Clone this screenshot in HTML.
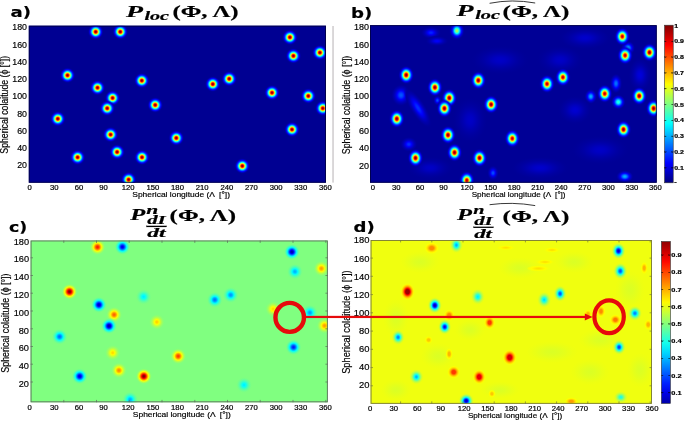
<!DOCTYPE html>
<html><head><meta charset="utf-8"><title>Figure</title>
<style>
html,body{margin:0;padding:0;background:#fff;overflow:hidden}
svg{display:block}
text{white-space:pre}
</style></head>
<body>
<svg width="685" height="421" viewBox="0 0 685 421">
<defs>
<radialGradient id="g0"><stop offset="0.000" stop-color="#800000"/><stop offset="0.056" stop-color="#8f0000"/><stop offset="0.111" stop-color="#bd0000"/><stop offset="0.167" stop-color="#ff0600"/><stop offset="0.222" stop-color="#ff6000"/><stop offset="0.278" stop-color="#ffc600"/><stop offset="0.333" stop-color="#ceff31"/><stop offset="0.389" stop-color="#68ff97"/><stop offset="0.444" stop-color="#0afff5"/><stop offset="0.500" stop-color="#00b6ff"/><stop offset="0.556" stop-color="#0071ff"/><stop offset="0.611" stop-color="#0038ff"/><stop offset="0.667" stop-color="#000bff"/><stop offset="0.722" stop-color="#0000e7"/><stop offset="0.778" stop-color="#0000cc" stop-opacity="0.83"/><stop offset="0.833" stop-color="#0000b8" stop-opacity="0.54"/><stop offset="0.889" stop-color="#0000a8" stop-opacity="0.31"/><stop offset="0.944" stop-color="#00009c" stop-opacity="0.14"/><stop offset="1.000" stop-color="#000092" stop-opacity="0.00"/></radialGradient>
<clipPath id="cp0"><rect x="28.8" y="25.7" width="297.2" height="157.0"/></clipPath>
<radialGradient id="g1"><stop offset="0.000" stop-color="#0024ff"/><stop offset="0.056" stop-color="#0022ff"/><stop offset="0.111" stop-color="#001dff"/><stop offset="0.167" stop-color="#0015ff"/><stop offset="0.222" stop-color="#000aff"/><stop offset="0.278" stop-color="#0000fd"/><stop offset="0.333" stop-color="#0000ef"/><stop offset="0.389" stop-color="#0000e2"/><stop offset="0.444" stop-color="#0000d5"/><stop offset="0.500" stop-color="#0000c9"/><stop offset="0.556" stop-color="#0000be"/><stop offset="0.611" stop-color="#0000b5"/><stop offset="0.667" stop-color="#0000ad"/><stop offset="0.722" stop-color="#0000a7"/><stop offset="0.778" stop-color="#0000a2"/><stop offset="0.833" stop-color="#00009e" stop-opacity="0.80"/><stop offset="0.889" stop-color="#00009b" stop-opacity="0.47"/><stop offset="0.944" stop-color="#000098" stop-opacity="0.21"/><stop offset="1.000" stop-color="#000096" stop-opacity="0.00"/></radialGradient>
<radialGradient id="g2"><stop offset="0.000" stop-color="#0057ff"/><stop offset="0.056" stop-color="#0054ff"/><stop offset="0.111" stop-color="#004dff"/><stop offset="0.167" stop-color="#0042ff"/><stop offset="0.222" stop-color="#0034ff"/><stop offset="0.278" stop-color="#0023ff"/><stop offset="0.333" stop-color="#0011ff"/><stop offset="0.389" stop-color="#0000fe"/><stop offset="0.444" stop-color="#0000ec"/><stop offset="0.500" stop-color="#0000dc"/><stop offset="0.556" stop-color="#0000cd"/><stop offset="0.611" stop-color="#0000c1"/><stop offset="0.667" stop-color="#0000b6"/><stop offset="0.722" stop-color="#0000ad"/><stop offset="0.778" stop-color="#0000a6"/><stop offset="0.833" stop-color="#0000a1" stop-opacity="0.80"/><stop offset="0.889" stop-color="#00009c" stop-opacity="0.47"/><stop offset="0.944" stop-color="#000099" stop-opacity="0.21"/><stop offset="1.000" stop-color="#000096" stop-opacity="0.00"/></radialGradient>
<radialGradient id="g3"><stop offset="0.000" stop-color="#2effd1"/><stop offset="0.056" stop-color="#29ffd6"/><stop offset="0.111" stop-color="#1affe5"/><stop offset="0.167" stop-color="#02fffd"/><stop offset="0.222" stop-color="#00e2ff"/><stop offset="0.278" stop-color="#00bfff"/><stop offset="0.333" stop-color="#0099ff"/><stop offset="0.389" stop-color="#0072ff"/><stop offset="0.444" stop-color="#004dff"/><stop offset="0.500" stop-color="#002bff"/><stop offset="0.556" stop-color="#000cff"/><stop offset="0.611" stop-color="#0000f0"/><stop offset="0.667" stop-color="#0000da"/><stop offset="0.722" stop-color="#0000c7"/><stop offset="0.778" stop-color="#0000b9"/><stop offset="0.833" stop-color="#0000ad" stop-opacity="0.80"/><stop offset="0.889" stop-color="#0000a3" stop-opacity="0.47"/><stop offset="0.944" stop-color="#00009c" stop-opacity="0.21"/><stop offset="1.000" stop-color="#000096" stop-opacity="0.00"/></radialGradient>
<radialGradient id="g4"><stop offset="0.000" stop-color="#00b2ff"/><stop offset="0.056" stop-color="#00afff"/><stop offset="0.111" stop-color="#00a4ff"/><stop offset="0.167" stop-color="#0094ff"/><stop offset="0.222" stop-color="#007eff"/><stop offset="0.278" stop-color="#0066ff"/><stop offset="0.333" stop-color="#004bff"/><stop offset="0.389" stop-color="#0030ff"/><stop offset="0.444" stop-color="#0016ff"/><stop offset="0.500" stop-color="#0000fd"/><stop offset="0.556" stop-color="#0000e8"/><stop offset="0.611" stop-color="#0000d5"/><stop offset="0.667" stop-color="#0000c5"/><stop offset="0.722" stop-color="#0000b8"/><stop offset="0.778" stop-color="#0000ae"/><stop offset="0.833" stop-color="#0000a6" stop-opacity="0.80"/><stop offset="0.889" stop-color="#00009f" stop-opacity="0.47"/><stop offset="0.944" stop-color="#00009a" stop-opacity="0.21"/><stop offset="1.000" stop-color="#000096" stop-opacity="0.00"/></radialGradient>
<radialGradient id="g5"><stop offset="0.000" stop-color="#0075ff"/><stop offset="0.056" stop-color="#0072ff"/><stop offset="0.111" stop-color="#006aff"/><stop offset="0.167" stop-color="#005dff"/><stop offset="0.222" stop-color="#004dff"/><stop offset="0.278" stop-color="#0039ff"/><stop offset="0.333" stop-color="#0024ff"/><stop offset="0.389" stop-color="#000fff"/><stop offset="0.444" stop-color="#0000fa"/><stop offset="0.500" stop-color="#0000e7"/><stop offset="0.556" stop-color="#0000d6"/><stop offset="0.611" stop-color="#0000c7"/><stop offset="0.667" stop-color="#0000bb"/><stop offset="0.722" stop-color="#0000b1"/><stop offset="0.778" stop-color="#0000a9"/><stop offset="0.833" stop-color="#0000a2" stop-opacity="0.80"/><stop offset="0.889" stop-color="#00009d" stop-opacity="0.47"/><stop offset="0.944" stop-color="#000099" stop-opacity="0.21"/><stop offset="1.000" stop-color="#000096" stop-opacity="0.00"/></radialGradient>
<radialGradient id="g6"><stop offset="0.000" stop-color="#002eff"/><stop offset="0.056" stop-color="#002cff"/><stop offset="0.111" stop-color="#0026ff"/><stop offset="0.167" stop-color="#001eff"/><stop offset="0.222" stop-color="#0012ff"/><stop offset="0.278" stop-color="#0005ff"/><stop offset="0.333" stop-color="#0000f6"/><stop offset="0.389" stop-color="#0000e7"/><stop offset="0.444" stop-color="#0000da"/><stop offset="0.500" stop-color="#0000cd"/><stop offset="0.556" stop-color="#0000c1"/><stop offset="0.611" stop-color="#0000b8"/><stop offset="0.667" stop-color="#0000af"/><stop offset="0.722" stop-color="#0000a8"/><stop offset="0.778" stop-color="#0000a3"/><stop offset="0.833" stop-color="#00009e" stop-opacity="0.80"/><stop offset="0.889" stop-color="#00009b" stop-opacity="0.47"/><stop offset="0.944" stop-color="#000098" stop-opacity="0.21"/><stop offset="1.000" stop-color="#000096" stop-opacity="0.00"/></radialGradient>
<radialGradient id="g7"><stop offset="0.000" stop-color="#004dff"/><stop offset="0.056" stop-color="#004aff"/><stop offset="0.111" stop-color="#0044ff"/><stop offset="0.167" stop-color="#0039ff"/><stop offset="0.222" stop-color="#002bff"/><stop offset="0.278" stop-color="#001bff"/><stop offset="0.333" stop-color="#000aff"/><stop offset="0.389" stop-color="#0000f8"/><stop offset="0.444" stop-color="#0000e7"/><stop offset="0.500" stop-color="#0000d8"/><stop offset="0.556" stop-color="#0000ca"/><stop offset="0.611" stop-color="#0000be"/><stop offset="0.667" stop-color="#0000b4"/><stop offset="0.722" stop-color="#0000ac"/><stop offset="0.778" stop-color="#0000a5"/><stop offset="0.833" stop-color="#0000a0" stop-opacity="0.80"/><stop offset="0.889" stop-color="#00009c" stop-opacity="0.47"/><stop offset="0.944" stop-color="#000099" stop-opacity="0.21"/><stop offset="1.000" stop-color="#000096" stop-opacity="0.00"/></radialGradient>
<radialGradient id="g8"><stop offset="0.000" stop-color="#0000fa"/><stop offset="0.056" stop-color="#0000f9"/><stop offset="0.111" stop-color="#0000f5"/><stop offset="0.167" stop-color="#0000ef"/><stop offset="0.222" stop-color="#0000e8"/><stop offset="0.278" stop-color="#0000df"/><stop offset="0.333" stop-color="#0000d5"/><stop offset="0.389" stop-color="#0000cc"/><stop offset="0.444" stop-color="#0000c3"/><stop offset="0.500" stop-color="#0000ba"/><stop offset="0.556" stop-color="#0000b3"/><stop offset="0.611" stop-color="#0000ac"/><stop offset="0.667" stop-color="#0000a7"/><stop offset="0.722" stop-color="#0000a2"/><stop offset="0.778" stop-color="#00009e"/><stop offset="0.833" stop-color="#00009c" stop-opacity="0.80"/><stop offset="0.889" stop-color="#000099" stop-opacity="0.47"/><stop offset="0.944" stop-color="#000097" stop-opacity="0.21"/><stop offset="1.000" stop-color="#000096" stop-opacity="0.00"/></radialGradient>
<radialGradient id="g9"><stop offset="0.000" stop-color="#0000cc"/><stop offset="0.056" stop-color="#0000cb"/><stop offset="0.111" stop-color="#0000c9"/><stop offset="0.167" stop-color="#0000c6"/><stop offset="0.222" stop-color="#0000c2"/><stop offset="0.278" stop-color="#0000bd"/><stop offset="0.333" stop-color="#0000b8"/><stop offset="0.389" stop-color="#0000b3"/><stop offset="0.444" stop-color="#0000ae"/><stop offset="0.500" stop-color="#0000aa"/><stop offset="0.556" stop-color="#0000a6"/><stop offset="0.611" stop-color="#0000a2"/><stop offset="0.667" stop-color="#00009f"/><stop offset="0.722" stop-color="#00009d"/><stop offset="0.778" stop-color="#00009b"/><stop offset="0.833" stop-color="#000099" stop-opacity="0.80"/><stop offset="0.889" stop-color="#000098" stop-opacity="0.47"/><stop offset="0.944" stop-color="#000097" stop-opacity="0.21"/><stop offset="1.000" stop-color="#000096" stop-opacity="0.00"/></radialGradient>
<radialGradient id="g10"><stop offset="0.000" stop-color="#0000c7"/><stop offset="0.056" stop-color="#0000c6"/><stop offset="0.111" stop-color="#0000c4"/><stop offset="0.167" stop-color="#0000c2"/><stop offset="0.222" stop-color="#0000be"/><stop offset="0.278" stop-color="#0000ba"/><stop offset="0.333" stop-color="#0000b5"/><stop offset="0.389" stop-color="#0000b0"/><stop offset="0.444" stop-color="#0000ac"/><stop offset="0.500" stop-color="#0000a8"/><stop offset="0.556" stop-color="#0000a4"/><stop offset="0.611" stop-color="#0000a1"/><stop offset="0.667" stop-color="#00009e"/><stop offset="0.722" stop-color="#00009c"/><stop offset="0.778" stop-color="#00009a"/><stop offset="0.833" stop-color="#000099" stop-opacity="0.80"/><stop offset="0.889" stop-color="#000098" stop-opacity="0.47"/><stop offset="0.944" stop-color="#000097" stop-opacity="0.21"/><stop offset="1.000" stop-color="#000096" stop-opacity="0.00"/></radialGradient>
<radialGradient id="g11"><stop offset="0.000" stop-color="#0000db"/><stop offset="0.056" stop-color="#0000da"/><stop offset="0.111" stop-color="#0000d8"/><stop offset="0.167" stop-color="#0000d4"/><stop offset="0.222" stop-color="#0000cf"/><stop offset="0.278" stop-color="#0000c9"/><stop offset="0.333" stop-color="#0000c2"/><stop offset="0.389" stop-color="#0000bb"/><stop offset="0.444" stop-color="#0000b5"/><stop offset="0.500" stop-color="#0000af"/><stop offset="0.556" stop-color="#0000aa"/><stop offset="0.611" stop-color="#0000a5"/><stop offset="0.667" stop-color="#0000a2"/><stop offset="0.722" stop-color="#00009e"/><stop offset="0.778" stop-color="#00009c"/><stop offset="0.833" stop-color="#00009a" stop-opacity="0.80"/><stop offset="0.889" stop-color="#000098" stop-opacity="0.47"/><stop offset="0.944" stop-color="#000097" stop-opacity="0.21"/><stop offset="1.000" stop-color="#000096" stop-opacity="0.00"/></radialGradient>
<radialGradient id="g12"><stop offset="0.000" stop-color="#0000d1"/><stop offset="0.056" stop-color="#0000d0"/><stop offset="0.111" stop-color="#0000ce"/><stop offset="0.167" stop-color="#0000cb"/><stop offset="0.222" stop-color="#0000c6"/><stop offset="0.278" stop-color="#0000c1"/><stop offset="0.333" stop-color="#0000bc"/><stop offset="0.389" stop-color="#0000b6"/><stop offset="0.444" stop-color="#0000b0"/><stop offset="0.500" stop-color="#0000ab"/><stop offset="0.556" stop-color="#0000a7"/><stop offset="0.611" stop-color="#0000a3"/><stop offset="0.667" stop-color="#0000a0"/><stop offset="0.722" stop-color="#00009d"/><stop offset="0.778" stop-color="#00009b"/><stop offset="0.833" stop-color="#000099" stop-opacity="0.80"/><stop offset="0.889" stop-color="#000098" stop-opacity="0.47"/><stop offset="0.944" stop-color="#000097" stop-opacity="0.21"/><stop offset="1.000" stop-color="#000096" stop-opacity="0.00"/></radialGradient>
<radialGradient id="g13"><stop offset="0.000" stop-color="#b3ff4c"/><stop offset="0.056" stop-color="#aaff55"/><stop offset="0.111" stop-color="#91ff6e"/><stop offset="0.167" stop-color="#6bff94"/><stop offset="0.222" stop-color="#3affc5"/><stop offset="0.278" stop-color="#03fffc"/><stop offset="0.333" stop-color="#00caff"/><stop offset="0.389" stop-color="#0093ff"/><stop offset="0.444" stop-color="#0060ff"/><stop offset="0.500" stop-color="#0034ff"/><stop offset="0.556" stop-color="#000eff"/><stop offset="0.611" stop-color="#0000ef"/><stop offset="0.667" stop-color="#0000d7"/><stop offset="0.722" stop-color="#0000c4"/><stop offset="0.778" stop-color="#0000b5" stop-opacity="0.83"/><stop offset="0.833" stop-color="#0000aa" stop-opacity="0.54"/><stop offset="0.889" stop-color="#0000a2" stop-opacity="0.31"/><stop offset="0.944" stop-color="#00009b" stop-opacity="0.14"/><stop offset="1.000" stop-color="#000096" stop-opacity="0.00"/></radialGradient>
<radialGradient id="g14"><stop offset="0.000" stop-color="#800000"/><stop offset="0.056" stop-color="#8f0000"/><stop offset="0.111" stop-color="#bd0000"/><stop offset="0.167" stop-color="#ff0500"/><stop offset="0.222" stop-color="#ff6000"/><stop offset="0.278" stop-color="#ffc500"/><stop offset="0.333" stop-color="#d0ff2f"/><stop offset="0.389" stop-color="#6aff95"/><stop offset="0.444" stop-color="#0cfff3"/><stop offset="0.500" stop-color="#00b9ff"/><stop offset="0.556" stop-color="#0074ff"/><stop offset="0.611" stop-color="#003cff"/><stop offset="0.667" stop-color="#000fff"/><stop offset="0.722" stop-color="#0000eb"/><stop offset="0.778" stop-color="#0000d0" stop-opacity="0.83"/><stop offset="0.833" stop-color="#0000bc" stop-opacity="0.54"/><stop offset="0.889" stop-color="#0000ac" stop-opacity="0.31"/><stop offset="0.944" stop-color="#0000a0" stop-opacity="0.14"/><stop offset="1.000" stop-color="#000096" stop-opacity="0.00"/></radialGradient>
<radialGradient id="g15"><stop offset="0.000" stop-color="#b30000"/><stop offset="0.056" stop-color="#c10000"/><stop offset="0.111" stop-color="#ed0000"/><stop offset="0.167" stop-color="#ff3200"/><stop offset="0.222" stop-color="#ff8700"/><stop offset="0.278" stop-color="#ffe700"/><stop offset="0.333" stop-color="#b3ff4c"/><stop offset="0.389" stop-color="#52ffad"/><stop offset="0.444" stop-color="#00f8ff"/><stop offset="0.500" stop-color="#00aaff"/><stop offset="0.556" stop-color="#0069ff"/><stop offset="0.611" stop-color="#0033ff"/><stop offset="0.667" stop-color="#0009ff"/><stop offset="0.722" stop-color="#0000e7"/><stop offset="0.778" stop-color="#0000cd" stop-opacity="0.83"/><stop offset="0.833" stop-color="#0000ba" stop-opacity="0.54"/><stop offset="0.889" stop-color="#0000ab" stop-opacity="0.31"/><stop offset="0.944" stop-color="#00009f" stop-opacity="0.14"/><stop offset="1.000" stop-color="#000096" stop-opacity="0.00"/></radialGradient>
<clipPath id="cp1"><rect x="370.0" y="25.2" width="286.7" height="157.5"/></clipPath>
<radialGradient id="g16"><stop offset="0.000" stop-color="#ff1a00"/><stop offset="0.056" stop-color="#ff1e00"/><stop offset="0.111" stop-color="#ff2d00"/><stop offset="0.167" stop-color="#ff4400"/><stop offset="0.222" stop-color="#ff6100"/><stop offset="0.278" stop-color="#ff8300"/><stop offset="0.333" stop-color="#ffa800"/><stop offset="0.389" stop-color="#ffcc00"/><stop offset="0.444" stop-color="#ffee00"/><stop offset="0.500" stop-color="#f1ff0e"/><stop offset="0.556" stop-color="#d6ff29"/><stop offset="0.611" stop-color="#bfff40"/><stop offset="0.667" stop-color="#acff53"/><stop offset="0.722" stop-color="#9eff61"/><stop offset="0.778" stop-color="#93ff6c" stop-opacity="0.79"/><stop offset="0.833" stop-color="#8bff74" stop-opacity="0.47"/><stop offset="0.889" stop-color="#86ff79" stop-opacity="0.25"/><stop offset="0.944" stop-color="#82ff7d" stop-opacity="0.10"/><stop offset="1.000" stop-color="#80ff80" stop-opacity="0.00"/></radialGradient>
<radialGradient id="g17"><stop offset="0.000" stop-color="#0000e5"/><stop offset="0.056" stop-color="#0000eb"/><stop offset="0.111" stop-color="#0000fc"/><stop offset="0.167" stop-color="#0017ff"/><stop offset="0.222" stop-color="#0039ff"/><stop offset="0.278" stop-color="#0060ff"/><stop offset="0.333" stop-color="#0089ff"/><stop offset="0.389" stop-color="#00b2ff"/><stop offset="0.444" stop-color="#00d9ff"/><stop offset="0.500" stop-color="#00fdff"/><stop offset="0.556" stop-color="#1dffe2"/><stop offset="0.611" stop-color="#37ffc8"/><stop offset="0.667" stop-color="#4cffb3"/><stop offset="0.722" stop-color="#5dffa2"/><stop offset="0.778" stop-color="#69ff96" stop-opacity="0.79"/><stop offset="0.833" stop-color="#72ff8d" stop-opacity="0.47"/><stop offset="0.889" stop-color="#78ff87" stop-opacity="0.25"/><stop offset="0.944" stop-color="#7dff82" stop-opacity="0.10"/><stop offset="1.000" stop-color="#80ff80" stop-opacity="0.00"/></radialGradient>
<radialGradient id="g18"><stop offset="0.000" stop-color="#800000"/><stop offset="0.056" stop-color="#870000"/><stop offset="0.111" stop-color="#9b0000"/><stop offset="0.167" stop-color="#bc0000"/><stop offset="0.222" stop-color="#e60000"/><stop offset="0.278" stop-color="#ff1800"/><stop offset="0.333" stop-color="#ff4b00"/><stop offset="0.389" stop-color="#ff7f00"/><stop offset="0.444" stop-color="#ffb000"/><stop offset="0.500" stop-color="#ffdd00"/><stop offset="0.556" stop-color="#faff05"/><stop offset="0.611" stop-color="#daff25"/><stop offset="0.667" stop-color="#c0ff3f"/><stop offset="0.722" stop-color="#abff54"/><stop offset="0.778" stop-color="#9cff63" stop-opacity="0.79"/><stop offset="0.833" stop-color="#90ff6f" stop-opacity="0.47"/><stop offset="0.889" stop-color="#89ff76" stop-opacity="0.25"/><stop offset="0.944" stop-color="#83ff7c" stop-opacity="0.10"/><stop offset="1.000" stop-color="#80ff80" stop-opacity="0.00"/></radialGradient>
<radialGradient id="g19"><stop offset="0.000" stop-color="#00f0ff"/><stop offset="0.056" stop-color="#00f2ff"/><stop offset="0.111" stop-color="#00f8ff"/><stop offset="0.167" stop-color="#02fffd"/><stop offset="0.222" stop-color="#0dfff2"/><stop offset="0.278" stop-color="#1bffe4"/><stop offset="0.333" stop-color="#2affd5"/><stop offset="0.389" stop-color="#38ffc7"/><stop offset="0.444" stop-color="#46ffb9"/><stop offset="0.500" stop-color="#52ffad"/><stop offset="0.556" stop-color="#5dffa2"/><stop offset="0.611" stop-color="#66ff99"/><stop offset="0.667" stop-color="#6eff91"/><stop offset="0.722" stop-color="#73ff8c"/><stop offset="0.778" stop-color="#78ff87" stop-opacity="0.79"/><stop offset="0.833" stop-color="#7bff84" stop-opacity="0.47"/><stop offset="0.889" stop-color="#7dff82" stop-opacity="0.25"/><stop offset="0.944" stop-color="#7eff81" stop-opacity="0.10"/><stop offset="1.000" stop-color="#80ff80" stop-opacity="0.00"/></radialGradient>
<radialGradient id="g20"><stop offset="0.000" stop-color="#0000a8"/><stop offset="0.056" stop-color="#0000af"/><stop offset="0.111" stop-color="#0000c2"/><stop offset="0.167" stop-color="#0000e0"/><stop offset="0.222" stop-color="#0008ff"/><stop offset="0.278" stop-color="#0034ff"/><stop offset="0.333" stop-color="#0064ff"/><stop offset="0.389" stop-color="#0094ff"/><stop offset="0.444" stop-color="#00c1ff"/><stop offset="0.500" stop-color="#00eaff"/><stop offset="0.556" stop-color="#0efff1"/><stop offset="0.611" stop-color="#2cffd3"/><stop offset="0.667" stop-color="#45ffba"/><stop offset="0.722" stop-color="#57ffa8"/><stop offset="0.778" stop-color="#66ff99" stop-opacity="0.79"/><stop offset="0.833" stop-color="#70ff8f" stop-opacity="0.47"/><stop offset="0.889" stop-color="#77ff88" stop-opacity="0.25"/><stop offset="0.944" stop-color="#7cff83" stop-opacity="0.10"/><stop offset="1.000" stop-color="#80ff80" stop-opacity="0.00"/></radialGradient>
<radialGradient id="g21"><stop offset="0.000" stop-color="#00b2ff"/><stop offset="0.056" stop-color="#00b5ff"/><stop offset="0.111" stop-color="#00beff"/><stop offset="0.167" stop-color="#00cbff"/><stop offset="0.222" stop-color="#00dcff"/><stop offset="0.278" stop-color="#00efff"/><stop offset="0.333" stop-color="#05fffa"/><stop offset="0.389" stop-color="#19ffe6"/><stop offset="0.444" stop-color="#2dffd2"/><stop offset="0.500" stop-color="#3fffc0"/><stop offset="0.556" stop-color="#4effb1"/><stop offset="0.611" stop-color="#5bffa4"/><stop offset="0.667" stop-color="#66ff99"/><stop offset="0.722" stop-color="#6eff91"/><stop offset="0.778" stop-color="#74ff8b" stop-opacity="0.79"/><stop offset="0.833" stop-color="#79ff86" stop-opacity="0.47"/><stop offset="0.889" stop-color="#7cff83" stop-opacity="0.25"/><stop offset="0.944" stop-color="#7eff81" stop-opacity="0.10"/><stop offset="1.000" stop-color="#80ff80" stop-opacity="0.00"/></radialGradient>
<radialGradient id="g22"><stop offset="0.000" stop-color="#ff9e00"/><stop offset="0.056" stop-color="#ffa100"/><stop offset="0.111" stop-color="#ffaa00"/><stop offset="0.167" stop-color="#ffb900"/><stop offset="0.222" stop-color="#ffcb00"/><stop offset="0.278" stop-color="#ffe100"/><stop offset="0.333" stop-color="#fff700"/><stop offset="0.389" stop-color="#f0ff0f"/><stop offset="0.444" stop-color="#daff25"/><stop offset="0.500" stop-color="#c7ff38"/><stop offset="0.556" stop-color="#b6ff49"/><stop offset="0.611" stop-color="#a7ff58"/><stop offset="0.667" stop-color="#9cff63"/><stop offset="0.722" stop-color="#93ff6c"/><stop offset="0.778" stop-color="#8cff73" stop-opacity="0.79"/><stop offset="0.833" stop-color="#87ff78" stop-opacity="0.47"/><stop offset="0.889" stop-color="#83ff7c" stop-opacity="0.25"/><stop offset="0.944" stop-color="#81ff7e" stop-opacity="0.10"/><stop offset="1.000" stop-color="#80ff80" stop-opacity="0.00"/></radialGradient>
<radialGradient id="g23"><stop offset="0.000" stop-color="#0094ff"/><stop offset="0.056" stop-color="#0097ff"/><stop offset="0.111" stop-color="#00a1ff"/><stop offset="0.167" stop-color="#00b0ff"/><stop offset="0.222" stop-color="#00c3ff"/><stop offset="0.278" stop-color="#00d9ff"/><stop offset="0.333" stop-color="#00f1ff"/><stop offset="0.389" stop-color="#0afff5"/><stop offset="0.444" stop-color="#21ffde"/><stop offset="0.500" stop-color="#35ffca"/><stop offset="0.556" stop-color="#47ffb8"/><stop offset="0.611" stop-color="#56ffa9"/><stop offset="0.667" stop-color="#62ff9d"/><stop offset="0.722" stop-color="#6bff94"/><stop offset="0.778" stop-color="#73ff8c" stop-opacity="0.79"/><stop offset="0.833" stop-color="#78ff87" stop-opacity="0.47"/><stop offset="0.889" stop-color="#7bff84" stop-opacity="0.25"/><stop offset="0.944" stop-color="#7eff81" stop-opacity="0.10"/><stop offset="1.000" stop-color="#80ff80" stop-opacity="0.00"/></radialGradient>
<radialGradient id="g24"><stop offset="0.000" stop-color="#0075ff"/><stop offset="0.056" stop-color="#0079ff"/><stop offset="0.111" stop-color="#0084ff"/><stop offset="0.167" stop-color="#0095ff"/><stop offset="0.222" stop-color="#00abff"/><stop offset="0.278" stop-color="#00c4ff"/><stop offset="0.333" stop-color="#00dfff"/><stop offset="0.389" stop-color="#00faff"/><stop offset="0.444" stop-color="#14ffeb"/><stop offset="0.500" stop-color="#2bffd4"/><stop offset="0.556" stop-color="#40ffbf"/><stop offset="0.611" stop-color="#51ffae"/><stop offset="0.667" stop-color="#5effa1"/><stop offset="0.722" stop-color="#69ff96"/><stop offset="0.778" stop-color="#71ff8e" stop-opacity="0.79"/><stop offset="0.833" stop-color="#77ff88" stop-opacity="0.47"/><stop offset="0.889" stop-color="#7bff84" stop-opacity="0.25"/><stop offset="0.944" stop-color="#7eff81" stop-opacity="0.10"/><stop offset="1.000" stop-color="#80ff80" stop-opacity="0.00"/></radialGradient>
<radialGradient id="g25"><stop offset="0.000" stop-color="#0000bd"/><stop offset="0.056" stop-color="#0000c3"/><stop offset="0.111" stop-color="#0000d5"/><stop offset="0.167" stop-color="#0000f2"/><stop offset="0.222" stop-color="#0018ff"/><stop offset="0.278" stop-color="#0043ff"/><stop offset="0.333" stop-color="#0070ff"/><stop offset="0.389" stop-color="#009eff"/><stop offset="0.444" stop-color="#00c9ff"/><stop offset="0.500" stop-color="#00f0ff"/><stop offset="0.556" stop-color="#13ffec"/><stop offset="0.611" stop-color="#30ffcf"/><stop offset="0.667" stop-color="#47ffb8"/><stop offset="0.722" stop-color="#59ffa6"/><stop offset="0.778" stop-color="#67ff98" stop-opacity="0.79"/><stop offset="0.833" stop-color="#71ff8e" stop-opacity="0.47"/><stop offset="0.889" stop-color="#78ff87" stop-opacity="0.25"/><stop offset="0.944" stop-color="#7cff83" stop-opacity="0.10"/><stop offset="1.000" stop-color="#80ff80" stop-opacity="0.00"/></radialGradient>
<radialGradient id="g26"><stop offset="0.000" stop-color="#ff6100"/><stop offset="0.056" stop-color="#ff6500"/><stop offset="0.111" stop-color="#ff7100"/><stop offset="0.167" stop-color="#ff8300"/><stop offset="0.222" stop-color="#ff9a00"/><stop offset="0.278" stop-color="#ffb600"/><stop offset="0.333" stop-color="#ffd300"/><stop offset="0.389" stop-color="#ffef00"/><stop offset="0.444" stop-color="#f3ff0c"/><stop offset="0.500" stop-color="#daff25"/><stop offset="0.556" stop-color="#c4ff3b"/><stop offset="0.611" stop-color="#b2ff4d"/><stop offset="0.667" stop-color="#a3ff5c"/><stop offset="0.722" stop-color="#98ff67"/><stop offset="0.778" stop-color="#8fff70" stop-opacity="0.79"/><stop offset="0.833" stop-color="#89ff76" stop-opacity="0.47"/><stop offset="0.889" stop-color="#85ff7a" stop-opacity="0.25"/><stop offset="0.944" stop-color="#82ff7d" stop-opacity="0.10"/><stop offset="1.000" stop-color="#80ff80" stop-opacity="0.00"/></radialGradient>
<radialGradient id="g27"><stop offset="0.000" stop-color="#00009e"/><stop offset="0.056" stop-color="#0000a5"/><stop offset="0.111" stop-color="#0000b8"/><stop offset="0.167" stop-color="#0000d7"/><stop offset="0.222" stop-color="#0000ff"/><stop offset="0.278" stop-color="#002dff"/><stop offset="0.333" stop-color="#005eff"/><stop offset="0.389" stop-color="#008eff"/><stop offset="0.444" stop-color="#00bdff"/><stop offset="0.500" stop-color="#00e6ff"/><stop offset="0.556" stop-color="#0cfff3"/><stop offset="0.611" stop-color="#2bffd4"/><stop offset="0.667" stop-color="#43ffbc"/><stop offset="0.722" stop-color="#57ffa8"/><stop offset="0.778" stop-color="#65ff9a" stop-opacity="0.79"/><stop offset="0.833" stop-color="#70ff8f" stop-opacity="0.47"/><stop offset="0.889" stop-color="#77ff88" stop-opacity="0.25"/><stop offset="0.944" stop-color="#7cff83" stop-opacity="0.10"/><stop offset="1.000" stop-color="#80ff80" stop-opacity="0.00"/></radialGradient>
<radialGradient id="g28"><stop offset="0.000" stop-color="#ffd100"/><stop offset="0.056" stop-color="#ffd400"/><stop offset="0.111" stop-color="#ffdb00"/><stop offset="0.167" stop-color="#ffe600"/><stop offset="0.222" stop-color="#fff400"/><stop offset="0.278" stop-color="#f9ff06"/><stop offset="0.333" stop-color="#e8ff17"/><stop offset="0.389" stop-color="#d6ff29"/><stop offset="0.444" stop-color="#c6ff39"/><stop offset="0.500" stop-color="#b6ff49"/><stop offset="0.556" stop-color="#a9ff56"/><stop offset="0.611" stop-color="#9eff61"/><stop offset="0.667" stop-color="#95ff6a"/><stop offset="0.722" stop-color="#8eff71"/><stop offset="0.778" stop-color="#89ff76" stop-opacity="0.79"/><stop offset="0.833" stop-color="#85ff7a" stop-opacity="0.47"/><stop offset="0.889" stop-color="#83ff7c" stop-opacity="0.25"/><stop offset="0.944" stop-color="#81ff7e" stop-opacity="0.10"/><stop offset="1.000" stop-color="#80ff80" stop-opacity="0.00"/></radialGradient>
<radialGradient id="g29"><stop offset="0.000" stop-color="#006bff"/><stop offset="0.056" stop-color="#006fff"/><stop offset="0.111" stop-color="#007aff"/><stop offset="0.167" stop-color="#008cff"/><stop offset="0.222" stop-color="#00a3ff"/><stop offset="0.278" stop-color="#00bdff"/><stop offset="0.333" stop-color="#00d9ff"/><stop offset="0.389" stop-color="#00f5ff"/><stop offset="0.444" stop-color="#10ffef"/><stop offset="0.500" stop-color="#28ffd7"/><stop offset="0.556" stop-color="#3dffc2"/><stop offset="0.611" stop-color="#4fffb0"/><stop offset="0.667" stop-color="#5dffa2"/><stop offset="0.722" stop-color="#68ff97"/><stop offset="0.778" stop-color="#70ff8f" stop-opacity="0.79"/><stop offset="0.833" stop-color="#76ff89" stop-opacity="0.47"/><stop offset="0.889" stop-color="#7bff84" stop-opacity="0.25"/><stop offset="0.944" stop-color="#7eff81" stop-opacity="0.10"/><stop offset="1.000" stop-color="#80ff80" stop-opacity="0.00"/></radialGradient>
<radialGradient id="g30"><stop offset="0.000" stop-color="#ffdb00"/><stop offset="0.056" stop-color="#ffde00"/><stop offset="0.111" stop-color="#ffe400"/><stop offset="0.167" stop-color="#ffef00"/><stop offset="0.222" stop-color="#fffc00"/><stop offset="0.278" stop-color="#f2ff0d"/><stop offset="0.333" stop-color="#e2ff1d"/><stop offset="0.389" stop-color="#d1ff2e"/><stop offset="0.444" stop-color="#c2ff3d"/><stop offset="0.500" stop-color="#b3ff4c"/><stop offset="0.556" stop-color="#a7ff58"/><stop offset="0.611" stop-color="#9cff63"/><stop offset="0.667" stop-color="#94ff6b"/><stop offset="0.722" stop-color="#8dff72"/><stop offset="0.778" stop-color="#89ff76" stop-opacity="0.79"/><stop offset="0.833" stop-color="#85ff7a" stop-opacity="0.47"/><stop offset="0.889" stop-color="#82ff7d" stop-opacity="0.25"/><stop offset="0.944" stop-color="#81ff7e" stop-opacity="0.10"/><stop offset="1.000" stop-color="#80ff80" stop-opacity="0.00"/></radialGradient>
<radialGradient id="g31"><stop offset="0.000" stop-color="#ff8a00"/><stop offset="0.056" stop-color="#ff8d00"/><stop offset="0.111" stop-color="#ff9700"/><stop offset="0.167" stop-color="#ffa700"/><stop offset="0.222" stop-color="#ffbb00"/><stop offset="0.278" stop-color="#ffd200"/><stop offset="0.333" stop-color="#ffeb00"/><stop offset="0.389" stop-color="#faff05"/><stop offset="0.444" stop-color="#e3ff1c"/><stop offset="0.500" stop-color="#cdff32"/><stop offset="0.556" stop-color="#baff45"/><stop offset="0.611" stop-color="#abff54"/><stop offset="0.667" stop-color="#9eff61"/><stop offset="0.722" stop-color="#94ff6b"/><stop offset="0.778" stop-color="#8dff72" stop-opacity="0.79"/><stop offset="0.833" stop-color="#88ff77" stop-opacity="0.47"/><stop offset="0.889" stop-color="#84ff7b" stop-opacity="0.25"/><stop offset="0.944" stop-color="#81ff7e" stop-opacity="0.10"/><stop offset="1.000" stop-color="#80ff80" stop-opacity="0.00"/></radialGradient>
<radialGradient id="g32"><stop offset="0.000" stop-color="#0000d1"/><stop offset="0.056" stop-color="#0000d7"/><stop offset="0.111" stop-color="#0000e9"/><stop offset="0.167" stop-color="#0005ff"/><stop offset="0.222" stop-color="#0028ff"/><stop offset="0.278" stop-color="#0051ff"/><stop offset="0.333" stop-color="#007dff"/><stop offset="0.389" stop-color="#00a8ff"/><stop offset="0.444" stop-color="#00d1ff"/><stop offset="0.500" stop-color="#00f7ff"/><stop offset="0.556" stop-color="#18ffe7"/><stop offset="0.611" stop-color="#34ffcb"/><stop offset="0.667" stop-color="#4affb5"/><stop offset="0.722" stop-color="#5bffa4"/><stop offset="0.778" stop-color="#68ff97" stop-opacity="0.79"/><stop offset="0.833" stop-color="#71ff8e" stop-opacity="0.47"/><stop offset="0.889" stop-color="#78ff87" stop-opacity="0.25"/><stop offset="0.944" stop-color="#7cff83" stop-opacity="0.10"/><stop offset="1.000" stop-color="#80ff80" stop-opacity="0.00"/></radialGradient>
<radialGradient id="g33"><stop offset="0.000" stop-color="#009eff"/><stop offset="0.056" stop-color="#00a1ff"/><stop offset="0.111" stop-color="#00aaff"/><stop offset="0.167" stop-color="#00b9ff"/><stop offset="0.222" stop-color="#00cbff"/><stop offset="0.278" stop-color="#00e1ff"/><stop offset="0.333" stop-color="#00f7ff"/><stop offset="0.389" stop-color="#0ffff0"/><stop offset="0.444" stop-color="#25ffda"/><stop offset="0.500" stop-color="#38ffc7"/><stop offset="0.556" stop-color="#49ffb6"/><stop offset="0.611" stop-color="#58ffa7"/><stop offset="0.667" stop-color="#63ff9c"/><stop offset="0.722" stop-color="#6cff93"/><stop offset="0.778" stop-color="#73ff8c" stop-opacity="0.79"/><stop offset="0.833" stop-color="#78ff87" stop-opacity="0.47"/><stop offset="0.889" stop-color="#7cff83" stop-opacity="0.25"/><stop offset="0.944" stop-color="#7eff81" stop-opacity="0.10"/><stop offset="1.000" stop-color="#80ff80" stop-opacity="0.00"/></radialGradient>
<radialGradient id="g34"><stop offset="0.000" stop-color="#001aff"/><stop offset="0.056" stop-color="#001eff"/><stop offset="0.111" stop-color="#002dff"/><stop offset="0.167" stop-color="#0044ff"/><stop offset="0.222" stop-color="#0061ff"/><stop offset="0.278" stop-color="#0083ff"/><stop offset="0.333" stop-color="#00a8ff"/><stop offset="0.389" stop-color="#00ccff"/><stop offset="0.444" stop-color="#00eeff"/><stop offset="0.500" stop-color="#0efff1"/><stop offset="0.556" stop-color="#29ffd6"/><stop offset="0.611" stop-color="#40ffbf"/><stop offset="0.667" stop-color="#53ffac"/><stop offset="0.722" stop-color="#61ff9e"/><stop offset="0.778" stop-color="#6cff93" stop-opacity="0.79"/><stop offset="0.833" stop-color="#74ff8b" stop-opacity="0.47"/><stop offset="0.889" stop-color="#79ff86" stop-opacity="0.25"/><stop offset="0.944" stop-color="#7dff82" stop-opacity="0.10"/><stop offset="1.000" stop-color="#80ff80" stop-opacity="0.00"/></radialGradient>
<radialGradient id="g35"><stop offset="0.000" stop-color="#ff3800"/><stop offset="0.056" stop-color="#ff3d00"/><stop offset="0.111" stop-color="#ff4a00"/><stop offset="0.167" stop-color="#ff5f00"/><stop offset="0.222" stop-color="#ff7a00"/><stop offset="0.278" stop-color="#ff9900"/><stop offset="0.333" stop-color="#ffba00"/><stop offset="0.389" stop-color="#ffdb00"/><stop offset="0.444" stop-color="#fffa00"/><stop offset="0.500" stop-color="#e7ff18"/><stop offset="0.556" stop-color="#ceff31"/><stop offset="0.611" stop-color="#b9ff46"/><stop offset="0.667" stop-color="#a9ff56"/><stop offset="0.722" stop-color="#9bff64"/><stop offset="0.778" stop-color="#92ff6d" stop-opacity="0.79"/><stop offset="0.833" stop-color="#8aff75" stop-opacity="0.47"/><stop offset="0.889" stop-color="#85ff7a" stop-opacity="0.25"/><stop offset="0.944" stop-color="#82ff7d" stop-opacity="0.10"/><stop offset="1.000" stop-color="#80ff80" stop-opacity="0.00"/></radialGradient>
<clipPath id="cp2"><rect x="30.6" y="240.5" width="297.2" height="161.8"/></clipPath>
<radialGradient id="g36"><stop offset="0.000" stop-color="#dbff24"/><stop offset="0.056" stop-color="#dbff24"/><stop offset="0.111" stop-color="#dcff23"/><stop offset="0.167" stop-color="#ddff22"/><stop offset="0.222" stop-color="#deff21"/><stop offset="0.278" stop-color="#dfff20"/><stop offset="0.333" stop-color="#e1ff1e"/><stop offset="0.389" stop-color="#e2ff1d"/><stop offset="0.444" stop-color="#e4ff1b"/><stop offset="0.500" stop-color="#e5ff1a"/><stop offset="0.556" stop-color="#e7ff18"/><stop offset="0.611" stop-color="#e9ff16"/><stop offset="0.667" stop-color="#eaff15"/><stop offset="0.722" stop-color="#ebff14"/><stop offset="0.778" stop-color="#edff12"/><stop offset="0.833" stop-color="#eeff11"/><stop offset="0.889" stop-color="#eeff11" stop-opacity="0.92"/><stop offset="0.944" stop-color="#efff10" stop-opacity="0.42"/><stop offset="1.000" stop-color="#f0ff0f" stop-opacity="0.00"/></radialGradient>
<radialGradient id="g37"><stop offset="0.000" stop-color="#ffe000"/><stop offset="0.056" stop-color="#ffe100"/><stop offset="0.111" stop-color="#ffe200"/><stop offset="0.167" stop-color="#ffe400"/><stop offset="0.222" stop-color="#ffe700"/><stop offset="0.278" stop-color="#ffea00"/><stop offset="0.333" stop-color="#ffee00"/><stop offset="0.389" stop-color="#fff200"/><stop offset="0.444" stop-color="#fff500"/><stop offset="0.500" stop-color="#fff900"/><stop offset="0.556" stop-color="#fffd00"/><stop offset="0.611" stop-color="#feff01"/><stop offset="0.667" stop-color="#faff05"/><stop offset="0.722" stop-color="#f8ff07"/><stop offset="0.778" stop-color="#f5ff0a"/><stop offset="0.833" stop-color="#f4ff0b"/><stop offset="0.889" stop-color="#f2ff0d" stop-opacity="0.71"/><stop offset="0.944" stop-color="#f1ff0e" stop-opacity="0.31"/><stop offset="1.000" stop-color="#f0ff0f" stop-opacity="0.00"/></radialGradient>
<radialGradient id="g38"><stop offset="0.000" stop-color="#ff8a00"/><stop offset="0.056" stop-color="#ff8a00"/><stop offset="0.111" stop-color="#ff8a00"/><stop offset="0.167" stop-color="#ff8a00"/><stop offset="0.222" stop-color="#ff8a00"/><stop offset="0.278" stop-color="#ff9500"/><stop offset="0.333" stop-color="#ffa700"/><stop offset="0.389" stop-color="#ffb800"/><stop offset="0.444" stop-color="#ffc900"/><stop offset="0.500" stop-color="#ffd800"/><stop offset="0.556" stop-color="#ffe500"/><stop offset="0.611" stop-color="#fff000"/><stop offset="0.667" stop-color="#fff900"/><stop offset="0.722" stop-color="#feff01"/><stop offset="0.778" stop-color="#f9ff06" stop-opacity="0.79"/><stop offset="0.833" stop-color="#f5ff0a" stop-opacity="0.47"/><stop offset="0.889" stop-color="#f3ff0c" stop-opacity="0.25"/><stop offset="0.944" stop-color="#f1ff0e" stop-opacity="0.10"/><stop offset="1.000" stop-color="#f0ff0f" stop-opacity="0.00"/></radialGradient>
<radialGradient id="g39"><stop offset="0.000" stop-color="#00b2ff"/><stop offset="0.056" stop-color="#00b7ff"/><stop offset="0.111" stop-color="#00c4ff"/><stop offset="0.167" stop-color="#00d8ff"/><stop offset="0.222" stop-color="#00f2ff"/><stop offset="0.278" stop-color="#11ffee"/><stop offset="0.333" stop-color="#31ffce"/><stop offset="0.389" stop-color="#51ffae"/><stop offset="0.444" stop-color="#70ff8f"/><stop offset="0.500" stop-color="#8bff74"/><stop offset="0.556" stop-color="#a4ff5b"/><stop offset="0.611" stop-color="#b8ff47"/><stop offset="0.667" stop-color="#c8ff37"/><stop offset="0.722" stop-color="#d5ff2a"/><stop offset="0.778" stop-color="#deff21" stop-opacity="0.79"/><stop offset="0.833" stop-color="#e5ff1a" stop-opacity="0.47"/><stop offset="0.889" stop-color="#eaff15" stop-opacity="0.25"/><stop offset="0.944" stop-color="#edff12" stop-opacity="0.10"/><stop offset="1.000" stop-color="#f0ff0f" stop-opacity="0.00"/></radialGradient>
<radialGradient id="g40"><stop offset="0.000" stop-color="#9e0000"/><stop offset="0.056" stop-color="#9e0000"/><stop offset="0.111" stop-color="#9e0000"/><stop offset="0.167" stop-color="#9e0000"/><stop offset="0.222" stop-color="#9e0000"/><stop offset="0.278" stop-color="#be0000"/><stop offset="0.333" stop-color="#ee0000"/><stop offset="0.389" stop-color="#ff1f00"/><stop offset="0.444" stop-color="#ff4d00"/><stop offset="0.500" stop-color="#ff7700"/><stop offset="0.556" stop-color="#ff9b00"/><stop offset="0.611" stop-color="#ffba00"/><stop offset="0.667" stop-color="#ffd200"/><stop offset="0.722" stop-color="#ffe500"/><stop offset="0.778" stop-color="#fff400" stop-opacity="0.79"/><stop offset="0.833" stop-color="#fffe00" stop-opacity="0.47"/><stop offset="0.889" stop-color="#f8ff07" stop-opacity="0.25"/><stop offset="0.944" stop-color="#f3ff0c" stop-opacity="0.10"/><stop offset="1.000" stop-color="#f0ff0f" stop-opacity="0.00"/></radialGradient>
<radialGradient id="g41"><stop offset="0.000" stop-color="#00f0ff"/><stop offset="0.056" stop-color="#00f3ff"/><stop offset="0.111" stop-color="#00feff"/><stop offset="0.167" stop-color="#0ffff0"/><stop offset="0.222" stop-color="#24ffdb"/><stop offset="0.278" stop-color="#3cffc3"/><stop offset="0.333" stop-color="#56ffa9"/><stop offset="0.389" stop-color="#70ff8f"/><stop offset="0.444" stop-color="#89ff76"/><stop offset="0.500" stop-color="#9fff60"/><stop offset="0.556" stop-color="#b2ff4d"/><stop offset="0.611" stop-color="#c3ff3c"/><stop offset="0.667" stop-color="#d0ff2f"/><stop offset="0.722" stop-color="#daff25"/><stop offset="0.778" stop-color="#e2ff1d" stop-opacity="0.79"/><stop offset="0.833" stop-color="#e7ff18" stop-opacity="0.47"/><stop offset="0.889" stop-color="#ebff14" stop-opacity="0.25"/><stop offset="0.944" stop-color="#eeff11" stop-opacity="0.10"/><stop offset="1.000" stop-color="#f0ff0f" stop-opacity="0.00"/></radialGradient>
<radialGradient id="g42"><stop offset="0.000" stop-color="#0000d1"/><stop offset="0.056" stop-color="#0000d9"/><stop offset="0.111" stop-color="#0000ef"/><stop offset="0.167" stop-color="#0012ff"/><stop offset="0.222" stop-color="#003fff"/><stop offset="0.278" stop-color="#0072ff"/><stop offset="0.333" stop-color="#00a9ff"/><stop offset="0.389" stop-color="#00e0ff"/><stop offset="0.444" stop-color="#15ffea"/><stop offset="0.500" stop-color="#44ffbb"/><stop offset="0.556" stop-color="#6dff92"/><stop offset="0.611" stop-color="#90ff6f"/><stop offset="0.667" stop-color="#acff53"/><stop offset="0.722" stop-color="#c1ff3e"/><stop offset="0.778" stop-color="#d2ff2d" stop-opacity="0.79"/><stop offset="0.833" stop-color="#deff21" stop-opacity="0.47"/><stop offset="0.889" stop-color="#e6ff19" stop-opacity="0.25"/><stop offset="0.944" stop-color="#ecff13" stop-opacity="0.10"/><stop offset="1.000" stop-color="#f0ff0f" stop-opacity="0.00"/></radialGradient>
<radialGradient id="g43"><stop offset="0.000" stop-color="#004dff"/><stop offset="0.056" stop-color="#0052ff"/><stop offset="0.111" stop-color="#0063ff"/><stop offset="0.167" stop-color="#007eff"/><stop offset="0.222" stop-color="#00a1ff"/><stop offset="0.278" stop-color="#00c9ff"/><stop offset="0.333" stop-color="#00f3ff"/><stop offset="0.389" stop-color="#1effe1"/><stop offset="0.444" stop-color="#47ffb8"/><stop offset="0.500" stop-color="#6bff94"/><stop offset="0.556" stop-color="#8bff74"/><stop offset="0.611" stop-color="#a6ff59"/><stop offset="0.667" stop-color="#bbff44"/><stop offset="0.722" stop-color="#ccff33"/><stop offset="0.778" stop-color="#d9ff26" stop-opacity="0.79"/><stop offset="0.833" stop-color="#e2ff1d" stop-opacity="0.47"/><stop offset="0.889" stop-color="#e8ff17" stop-opacity="0.25"/><stop offset="0.944" stop-color="#edff12" stop-opacity="0.10"/><stop offset="1.000" stop-color="#f0ff0f" stop-opacity="0.00"/></radialGradient>
<radialGradient id="g44"><stop offset="0.000" stop-color="#ffb300"/><stop offset="0.056" stop-color="#ffb300"/><stop offset="0.111" stop-color="#ffb300"/><stop offset="0.167" stop-color="#ffb300"/><stop offset="0.222" stop-color="#ffb300"/><stop offset="0.278" stop-color="#ffba00"/><stop offset="0.333" stop-color="#ffc600"/><stop offset="0.389" stop-color="#ffd300"/><stop offset="0.444" stop-color="#ffde00"/><stop offset="0.500" stop-color="#ffe800"/><stop offset="0.556" stop-color="#fff200"/><stop offset="0.611" stop-color="#fff900"/><stop offset="0.667" stop-color="#ffff00"/><stop offset="0.722" stop-color="#faff05"/><stop offset="0.778" stop-color="#f6ff09" stop-opacity="0.79"/><stop offset="0.833" stop-color="#f4ff0b" stop-opacity="0.47"/><stop offset="0.889" stop-color="#f2ff0d" stop-opacity="0.25"/><stop offset="0.944" stop-color="#f1ff0e" stop-opacity="0.10"/><stop offset="1.000" stop-color="#f0ff0f" stop-opacity="0.00"/></radialGradient>
<radialGradient id="g45"><stop offset="0.000" stop-color="#00dbff"/><stop offset="0.056" stop-color="#00dfff"/><stop offset="0.111" stop-color="#00eaff"/><stop offset="0.167" stop-color="#00fcff"/><stop offset="0.222" stop-color="#14ffeb"/><stop offset="0.278" stop-color="#2effd1"/><stop offset="0.333" stop-color="#4affb5"/><stop offset="0.389" stop-color="#66ff99"/><stop offset="0.444" stop-color="#80ff7f"/><stop offset="0.500" stop-color="#98ff67"/><stop offset="0.556" stop-color="#adff52"/><stop offset="0.611" stop-color="#bfff40"/><stop offset="0.667" stop-color="#cdff32"/><stop offset="0.722" stop-color="#d8ff27"/><stop offset="0.778" stop-color="#e0ff1f" stop-opacity="0.79"/><stop offset="0.833" stop-color="#e7ff18" stop-opacity="0.47"/><stop offset="0.889" stop-color="#ebff14" stop-opacity="0.25"/><stop offset="0.944" stop-color="#eeff11" stop-opacity="0.10"/><stop offset="1.000" stop-color="#f0ff0f" stop-opacity="0.00"/></radialGradient>
<radialGradient id="g46"><stop offset="0.000" stop-color="#0000b3"/><stop offset="0.056" stop-color="#0000ba"/><stop offset="0.111" stop-color="#0000d2"/><stop offset="0.167" stop-color="#0000f6"/><stop offset="0.222" stop-color="#0027ff"/><stop offset="0.278" stop-color="#005dff"/><stop offset="0.333" stop-color="#0097ff"/><stop offset="0.389" stop-color="#00d1ff"/><stop offset="0.444" stop-color="#09fff6"/><stop offset="0.500" stop-color="#3bffc4"/><stop offset="0.556" stop-color="#66ff99"/><stop offset="0.611" stop-color="#8bff74"/><stop offset="0.667" stop-color="#a8ff57"/><stop offset="0.722" stop-color="#bfff40"/><stop offset="0.778" stop-color="#d0ff2f" stop-opacity="0.79"/><stop offset="0.833" stop-color="#ddff22" stop-opacity="0.47"/><stop offset="0.889" stop-color="#e6ff19" stop-opacity="0.25"/><stop offset="0.944" stop-color="#ecff13" stop-opacity="0.10"/><stop offset="1.000" stop-color="#f0ff0f" stop-opacity="0.00"/></radialGradient>
<radialGradient id="g47"><stop offset="0.000" stop-color="#0000fa"/><stop offset="0.056" stop-color="#0002ff"/><stop offset="0.111" stop-color="#0016ff"/><stop offset="0.167" stop-color="#0036ff"/><stop offset="0.222" stop-color="#0060ff"/><stop offset="0.278" stop-color="#008fff"/><stop offset="0.333" stop-color="#00c2ff"/><stop offset="0.389" stop-color="#00f4ff"/><stop offset="0.444" stop-color="#26ffd9"/><stop offset="0.500" stop-color="#51ffae"/><stop offset="0.556" stop-color="#77ff88"/><stop offset="0.611" stop-color="#97ff68"/><stop offset="0.667" stop-color="#b1ff4e"/><stop offset="0.722" stop-color="#c5ff3a"/><stop offset="0.778" stop-color="#d4ff2b" stop-opacity="0.79"/><stop offset="0.833" stop-color="#dfff20" stop-opacity="0.47"/><stop offset="0.889" stop-color="#e7ff18" stop-opacity="0.25"/><stop offset="0.944" stop-color="#ecff13" stop-opacity="0.10"/><stop offset="1.000" stop-color="#f0ff0f" stop-opacity="0.00"/></radialGradient>
<radialGradient id="g48"><stop offset="0.000" stop-color="#ff3800"/><stop offset="0.056" stop-color="#ff3800"/><stop offset="0.111" stop-color="#ff3800"/><stop offset="0.167" stop-color="#ff3800"/><stop offset="0.222" stop-color="#ff3800"/><stop offset="0.278" stop-color="#ff4a00"/><stop offset="0.333" stop-color="#ff6700"/><stop offset="0.389" stop-color="#ff8300"/><stop offset="0.444" stop-color="#ff9e00"/><stop offset="0.500" stop-color="#ffb600"/><stop offset="0.556" stop-color="#ffcb00"/><stop offset="0.611" stop-color="#ffdd00"/><stop offset="0.667" stop-color="#ffeb00"/><stop offset="0.722" stop-color="#fff600"/><stop offset="0.778" stop-color="#ffff00" stop-opacity="0.79"/><stop offset="0.833" stop-color="#f9ff06" stop-opacity="0.47"/><stop offset="0.889" stop-color="#f5ff0a" stop-opacity="0.25"/><stop offset="0.944" stop-color="#f2ff0d" stop-opacity="0.10"/><stop offset="1.000" stop-color="#f0ff0f" stop-opacity="0.00"/></radialGradient>
<radialGradient id="g49"><stop offset="0.000" stop-color="#0080ff"/><stop offset="0.056" stop-color="#0085ff"/><stop offset="0.111" stop-color="#0094ff"/><stop offset="0.167" stop-color="#00abff"/><stop offset="0.222" stop-color="#00c9ff"/><stop offset="0.278" stop-color="#00ecff"/><stop offset="0.333" stop-color="#13ffec"/><stop offset="0.389" stop-color="#38ffc7"/><stop offset="0.444" stop-color="#5bffa4"/><stop offset="0.500" stop-color="#7bff84"/><stop offset="0.556" stop-color="#97ff68"/><stop offset="0.611" stop-color="#afff50"/><stop offset="0.667" stop-color="#c2ff3d"/><stop offset="0.722" stop-color="#d0ff2f"/><stop offset="0.778" stop-color="#dbff24" stop-opacity="0.79"/><stop offset="0.833" stop-color="#e4ff1b" stop-opacity="0.47"/><stop offset="0.889" stop-color="#e9ff16" stop-opacity="0.25"/><stop offset="0.944" stop-color="#edff12" stop-opacity="0.10"/><stop offset="1.000" stop-color="#f0ff0f" stop-opacity="0.00"/></radialGradient>
<radialGradient id="g50"><stop offset="0.000" stop-color="#e50000"/><stop offset="0.056" stop-color="#e50000"/><stop offset="0.111" stop-color="#e50000"/><stop offset="0.167" stop-color="#e50000"/><stop offset="0.222" stop-color="#e50000"/><stop offset="0.278" stop-color="#ff0000"/><stop offset="0.333" stop-color="#ff2700"/><stop offset="0.389" stop-color="#ff4e00"/><stop offset="0.444" stop-color="#ff7300"/><stop offset="0.500" stop-color="#ff9400"/><stop offset="0.556" stop-color="#ffb200"/><stop offset="0.611" stop-color="#ffca00"/><stop offset="0.667" stop-color="#ffde00"/><stop offset="0.722" stop-color="#ffed00"/><stop offset="0.778" stop-color="#fff900" stop-opacity="0.79"/><stop offset="0.833" stop-color="#fcff03" stop-opacity="0.47"/><stop offset="0.889" stop-color="#f6ff09" stop-opacity="0.25"/><stop offset="0.944" stop-color="#f2ff0d" stop-opacity="0.10"/><stop offset="1.000" stop-color="#f0ff0f" stop-opacity="0.00"/></radialGradient>
<radialGradient id="g51"><stop offset="0.000" stop-color="#d10000"/><stop offset="0.056" stop-color="#d10000"/><stop offset="0.111" stop-color="#d10000"/><stop offset="0.167" stop-color="#d10000"/><stop offset="0.222" stop-color="#d10000"/><stop offset="0.278" stop-color="#ec0000"/><stop offset="0.333" stop-color="#ff1700"/><stop offset="0.389" stop-color="#ff4000"/><stop offset="0.444" stop-color="#ff6800"/><stop offset="0.500" stop-color="#ff8c00"/><stop offset="0.556" stop-color="#ffab00"/><stop offset="0.611" stop-color="#ffc500"/><stop offset="0.667" stop-color="#ffdb00"/><stop offset="0.722" stop-color="#ffeb00"/><stop offset="0.778" stop-color="#fff800" stop-opacity="0.79"/><stop offset="0.833" stop-color="#fdff02" stop-opacity="0.47"/><stop offset="0.889" stop-color="#f7ff08" stop-opacity="0.25"/><stop offset="0.944" stop-color="#f3ff0c" stop-opacity="0.10"/><stop offset="1.000" stop-color="#f0ff0f" stop-opacity="0.00"/></radialGradient>
<radialGradient id="g52"><stop offset="0.000" stop-color="#0000bd"/><stop offset="0.056" stop-color="#0000c5"/><stop offset="0.111" stop-color="#0000db"/><stop offset="0.167" stop-color="#0000ff"/><stop offset="0.222" stop-color="#002fff"/><stop offset="0.278" stop-color="#0064ff"/><stop offset="0.333" stop-color="#009dff"/><stop offset="0.389" stop-color="#00d6ff"/><stop offset="0.444" stop-color="#0dfff2"/><stop offset="0.500" stop-color="#3effc1"/><stop offset="0.556" stop-color="#69ff96"/><stop offset="0.611" stop-color="#8cff73"/><stop offset="0.667" stop-color="#a9ff56"/><stop offset="0.722" stop-color="#c0ff3f"/><stop offset="0.778" stop-color="#d1ff2e" stop-opacity="0.79"/><stop offset="0.833" stop-color="#ddff22" stop-opacity="0.47"/><stop offset="0.889" stop-color="#e6ff19" stop-opacity="0.25"/><stop offset="0.944" stop-color="#ecff13" stop-opacity="0.10"/><stop offset="1.000" stop-color="#f0ff0f" stop-opacity="0.00"/></radialGradient>
<radialGradient id="g53"><stop offset="0.000" stop-color="#ffc700"/><stop offset="0.056" stop-color="#ffc700"/><stop offset="0.111" stop-color="#ffc700"/><stop offset="0.167" stop-color="#ffc700"/><stop offset="0.222" stop-color="#ffc700"/><stop offset="0.278" stop-color="#ffcd00"/><stop offset="0.333" stop-color="#ffd600"/><stop offset="0.389" stop-color="#ffe000"/><stop offset="0.444" stop-color="#ffe900"/><stop offset="0.500" stop-color="#fff100"/><stop offset="0.556" stop-color="#fff800"/><stop offset="0.611" stop-color="#fffe00"/><stop offset="0.667" stop-color="#fbff04"/><stop offset="0.722" stop-color="#f8ff07"/><stop offset="0.778" stop-color="#f5ff0a" stop-opacity="0.79"/><stop offset="0.833" stop-color="#f3ff0c" stop-opacity="0.47"/><stop offset="0.889" stop-color="#f1ff0e" stop-opacity="0.25"/><stop offset="0.944" stop-color="#f0ff0f" stop-opacity="0.10"/><stop offset="1.000" stop-color="#f0ff0f" stop-opacity="0.00"/></radialGradient>
<radialGradient id="g54"><stop offset="0.000" stop-color="#ff7500"/><stop offset="0.056" stop-color="#ff7500"/><stop offset="0.111" stop-color="#ff7500"/><stop offset="0.167" stop-color="#ff7500"/><stop offset="0.222" stop-color="#ff7500"/><stop offset="0.278" stop-color="#ff8200"/><stop offset="0.333" stop-color="#ff9700"/><stop offset="0.389" stop-color="#ffab00"/><stop offset="0.444" stop-color="#ffbe00"/><stop offset="0.500" stop-color="#ffcf00"/><stop offset="0.556" stop-color="#ffde00"/><stop offset="0.611" stop-color="#ffeb00"/><stop offset="0.667" stop-color="#fff500"/><stop offset="0.722" stop-color="#fffd00"/><stop offset="0.778" stop-color="#fbff04" stop-opacity="0.79"/><stop offset="0.833" stop-color="#f6ff09" stop-opacity="0.47"/><stop offset="0.889" stop-color="#f3ff0c" stop-opacity="0.25"/><stop offset="0.944" stop-color="#f1ff0e" stop-opacity="0.10"/><stop offset="1.000" stop-color="#f0ff0f" stop-opacity="0.00"/></radialGradient>
<radialGradient id="g55"><stop offset="0.000" stop-color="#0038ff"/><stop offset="0.056" stop-color="#003eff"/><stop offset="0.111" stop-color="#0050ff"/><stop offset="0.167" stop-color="#006cff"/><stop offset="0.222" stop-color="#0090ff"/><stop offset="0.278" stop-color="#00baff"/><stop offset="0.333" stop-color="#00e7ff"/><stop offset="0.389" stop-color="#14ffeb"/><stop offset="0.444" stop-color="#3effc1"/><stop offset="0.500" stop-color="#65ff9a"/><stop offset="0.556" stop-color="#86ff79"/><stop offset="0.611" stop-color="#a2ff5d"/><stop offset="0.667" stop-color="#b9ff46"/><stop offset="0.722" stop-color="#caff35"/><stop offset="0.778" stop-color="#d7ff28" stop-opacity="0.79"/><stop offset="0.833" stop-color="#e1ff1e" stop-opacity="0.47"/><stop offset="0.889" stop-color="#e8ff17" stop-opacity="0.25"/><stop offset="0.944" stop-color="#edff12" stop-opacity="0.10"/><stop offset="1.000" stop-color="#f0ff0f" stop-opacity="0.00"/></radialGradient>
<radialGradient id="g56"><stop offset="0.000" stop-color="#1affe5"/><stop offset="0.056" stop-color="#1cffe3"/><stop offset="0.111" stop-color="#25ffda"/><stop offset="0.167" stop-color="#33ffcc"/><stop offset="0.222" stop-color="#45ffba"/><stop offset="0.278" stop-color="#59ffa6"/><stop offset="0.333" stop-color="#6fff90"/><stop offset="0.389" stop-color="#84ff7b"/><stop offset="0.444" stop-color="#99ff66"/><stop offset="0.500" stop-color="#acff53"/><stop offset="0.556" stop-color="#bcff43"/><stop offset="0.611" stop-color="#caff35"/><stop offset="0.667" stop-color="#d5ff2a"/><stop offset="0.722" stop-color="#ddff22"/><stop offset="0.778" stop-color="#e4ff1b" stop-opacity="0.79"/><stop offset="0.833" stop-color="#e9ff16" stop-opacity="0.47"/><stop offset="0.889" stop-color="#ecff13" stop-opacity="0.25"/><stop offset="0.944" stop-color="#eeff11" stop-opacity="0.10"/><stop offset="1.000" stop-color="#f0ff0f" stop-opacity="0.00"/></radialGradient>
<radialGradient id="g57"><stop offset="0.000" stop-color="#ff9e00"/><stop offset="0.056" stop-color="#ff9e00"/><stop offset="0.111" stop-color="#ff9e00"/><stop offset="0.167" stop-color="#ff9e00"/><stop offset="0.222" stop-color="#ff9e00"/><stop offset="0.278" stop-color="#ffa800"/><stop offset="0.333" stop-color="#ffb600"/><stop offset="0.389" stop-color="#ffc500"/><stop offset="0.444" stop-color="#ffd300"/><stop offset="0.500" stop-color="#ffe000"/><stop offset="0.556" stop-color="#ffeb00"/><stop offset="0.611" stop-color="#fff400"/><stop offset="0.667" stop-color="#fffc00"/><stop offset="0.722" stop-color="#fcff03"/><stop offset="0.778" stop-color="#f8ff07" stop-opacity="0.79"/><stop offset="0.833" stop-color="#f5ff0a" stop-opacity="0.47"/><stop offset="0.889" stop-color="#f2ff0d" stop-opacity="0.25"/><stop offset="0.944" stop-color="#f1ff0e" stop-opacity="0.10"/><stop offset="1.000" stop-color="#f0ff0f" stop-opacity="0.00"/></radialGradient>
<clipPath id="cp3"><rect x="370.6" y="240.0" width="281.4" height="163.8"/></clipPath>
<linearGradient id="cbB" x1="0" y1="0" x2="0" y2="1"><stop offset="0.000" stop-color="#800000"/><stop offset="0.062" stop-color="#bf0000"/><stop offset="0.125" stop-color="#ff0000"/><stop offset="0.188" stop-color="#ff4000"/><stop offset="0.250" stop-color="#ff8000"/><stop offset="0.312" stop-color="#ffbf00"/><stop offset="0.375" stop-color="#ffff00"/><stop offset="0.438" stop-color="#bfff40"/><stop offset="0.500" stop-color="#80ff80"/><stop offset="0.562" stop-color="#40ffbf"/><stop offset="0.625" stop-color="#00ffff"/><stop offset="0.688" stop-color="#00bfff"/><stop offset="0.750" stop-color="#0080ff"/><stop offset="0.812" stop-color="#0040ff"/><stop offset="0.875" stop-color="#0000ff"/><stop offset="0.938" stop-color="#0000bf"/><stop offset="1.000" stop-color="#000080"/></linearGradient>
<linearGradient id="cbD" x1="0" y1="0" x2="0" y2="1"><stop offset="0.000" stop-color="#8f0000"/><stop offset="0.062" stop-color="#cb0000"/><stop offset="0.125" stop-color="#ff0800"/><stop offset="0.188" stop-color="#ff4500"/><stop offset="0.250" stop-color="#ff8100"/><stop offset="0.312" stop-color="#ffbd00"/><stop offset="0.375" stop-color="#fff900"/><stop offset="0.438" stop-color="#c8ff37"/><stop offset="0.500" stop-color="#8cff73"/><stop offset="0.562" stop-color="#50ffaf"/><stop offset="0.625" stop-color="#14ffeb"/><stop offset="0.688" stop-color="#00d7ff"/><stop offset="0.750" stop-color="#009aff"/><stop offset="0.812" stop-color="#005eff"/><stop offset="0.875" stop-color="#0022ff"/><stop offset="0.938" stop-color="#0000e5"/><stop offset="1.000" stop-color="#0000a8"/></linearGradient>
</defs>
<rect x="28.8" y="25.7" width="297.2" height="157.0" fill="#000092"/>
<g clip-path="url(#cp0)">
<ellipse cx="95.7" cy="31.8" rx="8.33" ry="8.33" fill="url(#g0)"/>
<ellipse cx="120.3" cy="31.8" rx="8.33" ry="8.33" fill="url(#g0)"/>
<ellipse cx="67.5" cy="75.3" rx="8.33" ry="8.33" fill="url(#g0)"/>
<ellipse cx="97.5" cy="87.7" rx="8.33" ry="8.33" fill="url(#g0)"/>
<ellipse cx="112.6" cy="98.0" rx="8.33" ry="8.33" fill="url(#g0)"/>
<ellipse cx="141.8" cy="80.6" rx="8.33" ry="8.33" fill="url(#g0)"/>
<ellipse cx="155.2" cy="105.0" rx="8.33" ry="8.33" fill="url(#g0)"/>
<ellipse cx="107.2" cy="108.3" rx="8.33" ry="8.33" fill="url(#g0)"/>
<ellipse cx="289.9" cy="37.3" rx="8.33" ry="8.33" fill="url(#g0)"/>
<ellipse cx="293.4" cy="55.9" rx="8.33" ry="8.33" fill="url(#g0)"/>
<ellipse cx="319.9" cy="52.6" rx="8.33" ry="8.33" fill="url(#g0)"/>
<ellipse cx="212.8" cy="84.1" rx="8.33" ry="8.33" fill="url(#g0)"/>
<ellipse cx="229.2" cy="78.8" rx="8.33" ry="8.33" fill="url(#g0)"/>
<ellipse cx="272.0" cy="92.7" rx="8.33" ry="8.33" fill="url(#g0)"/>
<ellipse cx="308.3" cy="96.0" rx="8.33" ry="8.33" fill="url(#g0)"/>
<ellipse cx="322.8" cy="108.3" rx="8.33" ry="8.33" fill="url(#g0)"/>
<ellipse cx="57.8" cy="118.8" rx="8.33" ry="8.33" fill="url(#g0)"/>
<ellipse cx="110.6" cy="134.6" rx="8.33" ry="8.33" fill="url(#g0)"/>
<ellipse cx="117.1" cy="152.0" rx="8.33" ry="8.33" fill="url(#g0)"/>
<ellipse cx="77.6" cy="157.3" rx="8.33" ry="8.33" fill="url(#g0)"/>
<ellipse cx="142.0" cy="157.3" rx="8.33" ry="8.33" fill="url(#g0)"/>
<ellipse cx="128.6" cy="179.6" rx="8.33" ry="8.33" fill="url(#g0)"/>
<ellipse cx="176.3" cy="138.0" rx="8.33" ry="8.33" fill="url(#g0)"/>
<ellipse cx="292.0" cy="129.5" rx="8.33" ry="8.33" fill="url(#g0)"/>
<ellipse cx="242.3" cy="166.0" rx="8.33" ry="8.33" fill="url(#g0)"/>
</g>
<rect x="29.25" y="26.15" width="296.30" height="156.10" fill="none" stroke="#000048" stroke-width="0.9"/>
<rect x="370.0" y="25.2" width="286.7" height="157.5" fill="#000096"/>
<g clip-path="url(#cp1)">
<ellipse cx="431.0" cy="32.7" rx="10.50" ry="6.60" fill="url(#g1)"/>
<ellipse cx="401.0" cy="95.2" rx="10.20" ry="11.40" fill="url(#g2)"/>
<ellipse cx="618.3" cy="102.0" rx="7.50" ry="7.80" fill="url(#g3)"/>
<ellipse cx="590.8" cy="96.5" rx="6.60" ry="7.80" fill="url(#g4)"/>
<ellipse cx="616.0" cy="83.5" rx="6.60" ry="10.50" fill="url(#g5)"/>
<ellipse cx="408.8" cy="144.3" rx="9.00" ry="7.80" fill="url(#g6)"/>
<ellipse cx="493.0" cy="173.0" rx="6.00" ry="7.80" fill="url(#g7)"/>
<ellipse cx="624.8" cy="176.5" rx="9.00" ry="6.60" fill="url(#g4)"/>
<ellipse cx="628.0" cy="48.0" rx="7.50" ry="7.50" fill="url(#g4)"/>
<ellipse cx="437.0" cy="41.0" rx="12.00" ry="5.40" fill="url(#g8)"/>
<ellipse cx="585.0" cy="38.0" rx="27.00" ry="12.00" fill="url(#g9)"/>
<ellipse cx="540.0" cy="168.0" rx="30.00" ry="12.00" fill="url(#g9)"/>
<ellipse cx="430.0" cy="168.0" rx="24.00" ry="12.00" fill="url(#g10)"/>
<ellipse cx="600.0" cy="150.0" rx="30.00" ry="15.00" fill="url(#g10)"/>
<ellipse cx="500.0" cy="60.0" rx="30.00" ry="15.00" fill="url(#g10)"/>
<ellipse cx="640.0" cy="75.0" rx="12.00" ry="18.00" fill="url(#g11)"/>
<ellipse cx="575.0" cy="110.0" rx="18.00" ry="15.00" fill="url(#g12)"/>
<ellipse cx="560.0" cy="60.0" rx="24.00" ry="15.00" fill="url(#g10)"/>
<ellipse cx="470.0" cy="120.0" rx="18.00" ry="24.00" fill="url(#g10)"/>
<ellipse cx="418.0" cy="108.0" rx="7.80" ry="24.00" fill="url(#g6)" transform="rotate(-32 418.0 108.0)"/>
<ellipse cx="437.4" cy="100.4" rx="4.50" ry="5.40" fill="url(#g7)"/>
<ellipse cx="456.9" cy="30.7" rx="8.33" ry="9.86" fill="url(#g13)"/>
<ellipse cx="406.2" cy="75.0" rx="8.33" ry="9.86" fill="url(#g14)"/>
<ellipse cx="434.9" cy="87.4" rx="8.33" ry="9.86" fill="url(#g14)"/>
<ellipse cx="449.3" cy="98.0" rx="8.33" ry="9.86" fill="url(#g14)"/>
<ellipse cx="478.3" cy="80.4" rx="8.33" ry="9.86" fill="url(#g14)"/>
<ellipse cx="491.1" cy="104.5" rx="8.33" ry="9.86" fill="url(#g14)"/>
<ellipse cx="444.4" cy="108.4" rx="8.33" ry="9.86" fill="url(#g14)"/>
<ellipse cx="622.3" cy="36.5" rx="8.33" ry="9.86" fill="url(#g15)"/>
<ellipse cx="625.1" cy="55.4" rx="8.33" ry="9.86" fill="url(#g15)"/>
<ellipse cx="649.5" cy="52.4" rx="8.33" ry="9.86" fill="url(#g14)"/>
<ellipse cx="547.0" cy="83.9" rx="8.33" ry="9.86" fill="url(#g15)"/>
<ellipse cx="562.9" cy="77.3" rx="8.33" ry="9.86" fill="url(#g15)"/>
<ellipse cx="604.7" cy="93.7" rx="8.33" ry="9.86" fill="url(#g15)"/>
<ellipse cx="639.2" cy="96.0" rx="8.33" ry="9.86" fill="url(#g14)"/>
<ellipse cx="653.6" cy="108.4" rx="8.33" ry="9.86" fill="url(#g14)"/>
<ellipse cx="396.8" cy="118.8" rx="8.33" ry="9.86" fill="url(#g14)"/>
<ellipse cx="448.0" cy="135.0" rx="8.33" ry="9.86" fill="url(#g14)"/>
<ellipse cx="454.5" cy="152.5" rx="8.33" ry="9.86" fill="url(#g14)"/>
<ellipse cx="415.5" cy="158.0" rx="8.33" ry="9.86" fill="url(#g14)"/>
<ellipse cx="479.5" cy="158.0" rx="8.33" ry="9.86" fill="url(#g14)"/>
<ellipse cx="466.8" cy="180.3" rx="8.33" ry="9.86" fill="url(#g15)"/>
<ellipse cx="512.3" cy="138.5" rx="8.33" ry="9.86" fill="url(#g15)"/>
<ellipse cx="623.5" cy="129.5" rx="8.33" ry="9.86" fill="url(#g14)"/>
</g>
<rect x="370.45" y="25.65" width="285.80" height="156.60" fill="none" stroke="#000048" stroke-width="0.9"/>
<rect x="30.6" y="240.5" width="297.2" height="161.8" fill="#80ff80"/>
<g clip-path="url(#cp2)">
<ellipse cx="97.5" cy="247.1" rx="8.70" ry="8.70" fill="url(#g16)"/>
<ellipse cx="122.4" cy="246.9" rx="8.70" ry="8.70" fill="url(#g17)"/>
<ellipse cx="69.5" cy="291.7" rx="8.70" ry="8.70" fill="url(#g18)"/>
<ellipse cx="143.6" cy="296.8" rx="8.70" ry="8.70" fill="url(#g19)"/>
<ellipse cx="291.9" cy="251.9" rx="8.70" ry="8.70" fill="url(#g20)"/>
<ellipse cx="294.9" cy="271.6" rx="8.70" ry="8.70" fill="url(#g21)"/>
<ellipse cx="321.4" cy="268.5" rx="8.70" ry="8.70" fill="url(#g22)"/>
<ellipse cx="230.7" cy="295.0" rx="8.70" ry="8.70" fill="url(#g23)"/>
<ellipse cx="214.8" cy="299.8" rx="8.70" ry="8.70" fill="url(#g24)"/>
<ellipse cx="98.9" cy="304.8" rx="8.70" ry="8.70" fill="url(#g25)"/>
<ellipse cx="114.1" cy="314.7" rx="8.70" ry="8.70" fill="url(#g26)"/>
<ellipse cx="109.0" cy="326.0" rx="8.70" ry="8.70" fill="url(#g27)"/>
<ellipse cx="156.8" cy="322.0" rx="8.70" ry="8.70" fill="url(#g28)"/>
<ellipse cx="59.6" cy="336.7" rx="8.70" ry="8.70" fill="url(#g29)"/>
<ellipse cx="112.7" cy="352.8" rx="8.70" ry="8.70" fill="url(#g30)"/>
<ellipse cx="118.9" cy="370.4" rx="8.70" ry="8.70" fill="url(#g31)"/>
<ellipse cx="79.7" cy="376.3" rx="8.70" ry="8.70" fill="url(#g32)"/>
<ellipse cx="143.8" cy="376.3" rx="8.70" ry="8.70" fill="url(#g18)"/>
<ellipse cx="130.2" cy="399.5" rx="8.70" ry="8.70" fill="url(#g21)"/>
<ellipse cx="273.1" cy="309.0" rx="8.70" ry="8.70" fill="url(#g30)"/>
<ellipse cx="309.9" cy="312.7" rx="8.70" ry="8.70" fill="url(#g33)"/>
<ellipse cx="324.5" cy="325.7" rx="8.70" ry="8.70" fill="url(#g22)"/>
<ellipse cx="293.5" cy="347.2" rx="8.70" ry="8.70" fill="url(#g34)"/>
<ellipse cx="178.2" cy="356.2" rx="8.70" ry="8.70" fill="url(#g35)"/>
<ellipse cx="244.0" cy="385.0" rx="8.70" ry="8.70" fill="url(#g19)"/>
</g>
<path d="M63.8 402.3v-2.4M63.8 240.5v2.4M96.5 402.3v-2.4M96.5 240.5v2.4M129.2 402.3v-2.4M129.2 240.5v2.4M162.0 402.3v-2.4M162.0 240.5v2.4M194.8 402.3v-2.4M194.8 240.5v2.4M227.5 402.3v-2.4M227.5 240.5v2.4M260.2 402.3v-2.4M260.2 240.5v2.4M293.0 402.3v-2.4M293.0 240.5v2.4M325.8 402.3v-2.4M325.8 240.5v2.4M30.6 382.0h2.4M327.8 382.0h-2.4M30.6 364.2h2.4M327.8 364.2h-2.4M30.6 346.5h2.4M327.8 346.5h-2.4M30.6 328.8h2.4M327.8 328.8h-2.4M30.6 311.0h2.4M327.8 311.0h-2.4M30.6 293.2h2.4M327.8 293.2h-2.4M30.6 275.5h2.4M327.8 275.5h-2.4M30.6 257.8h2.4M327.8 257.8h-2.4" stroke="#5c6a5c" stroke-width="0.7" fill="none"/>
<rect x="31.05" y="240.95" width="296.30" height="160.90" fill="none" stroke="#5c6a5c" stroke-width="0.9"/>
<rect x="370.6" y="240.0" width="281.4" height="163.8" fill="#f0ff0f"/>
<g clip-path="url(#cp3)">
<ellipse cx="420.0" cy="262.0" rx="19.80" ry="11.00" fill="url(#g36)"/>
<ellipse cx="396.0" cy="318.0" rx="13.20" ry="19.80" fill="url(#g36)"/>
<ellipse cx="438.0" cy="356.0" rx="17.60" ry="13.20" fill="url(#g36)"/>
<ellipse cx="520.0" cy="268.0" rx="22.00" ry="11.00" fill="url(#g36)"/>
<ellipse cx="552.0" cy="352.0" rx="26.40" ry="11.00" fill="url(#g36)"/>
<ellipse cx="590.0" cy="372.0" rx="19.80" ry="13.20" fill="url(#g36)"/>
<ellipse cx="630.0" cy="290.0" rx="15.40" ry="19.80" fill="url(#g36)"/>
<ellipse cx="574.0" cy="262.0" rx="19.80" ry="11.00" fill="url(#g36)"/>
<ellipse cx="470.0" cy="330.0" rx="15.40" ry="11.00" fill="url(#g36)"/>
<ellipse cx="600.0" cy="340.0" rx="22.00" ry="11.00" fill="url(#g36)"/>
<ellipse cx="640.0" cy="370.0" rx="13.20" ry="17.60" fill="url(#g36)"/>
<ellipse cx="500.0" cy="390.0" rx="19.80" ry="8.80" fill="url(#g36)"/>
<ellipse cx="396.0" cy="390.0" rx="15.40" ry="11.00" fill="url(#g36)"/>
<ellipse cx="538.5" cy="268.5" rx="12.00" ry="3.12" fill="url(#g37)"/>
<ellipse cx="505.8" cy="247.7" rx="9.60" ry="2.64" fill="url(#g37)"/>
<ellipse cx="552.0" cy="250.0" rx="8.40" ry="2.88" fill="url(#g37)"/>
<ellipse cx="545.0" cy="262.0" rx="9.60" ry="2.88" fill="url(#g37)"/>
<ellipse cx="431.7" cy="248.1" rx="8.26" ry="6.71" fill="url(#g38)"/>
<ellipse cx="456.4" cy="245.1" rx="7.25" ry="8.93" fill="url(#g39)"/>
<ellipse cx="407.5" cy="291.7" rx="7.74" ry="9.29" fill="url(#g40)"/>
<ellipse cx="477.8" cy="296.8" rx="7.81" ry="8.93" fill="url(#g41)"/>
<ellipse cx="618.5" cy="250.9" rx="7.81" ry="9.21" fill="url(#g42)"/>
<ellipse cx="620.3" cy="271.1" rx="7.81" ry="9.21" fill="url(#g43)"/>
<ellipse cx="644.2" cy="268.0" rx="4.13" ry="7.22" fill="url(#g44)"/>
<ellipse cx="560.1" cy="293.7" rx="7.25" ry="8.93" fill="url(#g43)"/>
<ellipse cx="544.2" cy="299.8" rx="7.81" ry="8.93" fill="url(#g45)"/>
<ellipse cx="434.8" cy="305.4" rx="7.81" ry="8.93" fill="url(#g46)"/>
<ellipse cx="449.2" cy="315.3" rx="6.19" ry="6.71" fill="url(#g38)"/>
<ellipse cx="444.7" cy="326.9" rx="7.25" ry="8.37" fill="url(#g47)"/>
<ellipse cx="489.6" cy="322.6" rx="6.19" ry="7.22" fill="url(#g48)"/>
<ellipse cx="398.1" cy="337.3" rx="7.25" ry="8.37" fill="url(#g49)"/>
<ellipse cx="449.2" cy="354.0" rx="4.13" ry="6.71" fill="url(#g44)"/>
<ellipse cx="453.7" cy="372.1" rx="7.22" ry="7.22" fill="url(#g48)"/>
<ellipse cx="416.4" cy="376.9" rx="7.81" ry="8.37" fill="url(#g39)"/>
<ellipse cx="479.2" cy="376.9" rx="7.22" ry="8.26" fill="url(#g50)"/>
<ellipse cx="509.7" cy="357.4" rx="7.74" ry="8.77" fill="url(#g51)"/>
<ellipse cx="466.2" cy="400.9" rx="8.37" ry="8.37" fill="url(#g52)"/>
<ellipse cx="491.9" cy="393.8" rx="4.13" ry="4.64" fill="url(#g53)"/>
<ellipse cx="428.6" cy="340.0" rx="4.64" ry="4.64" fill="url(#g53)"/>
<ellipse cx="601.0" cy="311.3" rx="5.16" ry="7.22" fill="url(#g38)"/>
<ellipse cx="615.4" cy="319.8" rx="6.71" ry="6.19" fill="url(#g54)"/>
<ellipse cx="588.0" cy="313.9" rx="4.64" ry="5.16" fill="url(#g44)"/>
<ellipse cx="634.9" cy="313.3" rx="7.81" ry="8.37" fill="url(#g49)"/>
<ellipse cx="648.2" cy="324.6" rx="4.64" ry="6.19" fill="url(#g44)"/>
<ellipse cx="619.1" cy="347.2" rx="7.25" ry="8.37" fill="url(#g55)"/>
<ellipse cx="620.8" cy="397.2" rx="7.81" ry="6.70" fill="url(#g56)"/>
<ellipse cx="571.3" cy="401.4" rx="7.74" ry="4.64" fill="url(#g57)"/>
</g>
<path d="M400.6 403.8v-2.4M400.6 240.0v2.4M431.8 403.8v-2.4M431.8 240.0v2.4M463.0 403.8v-2.4M463.0 240.0v2.4M494.2 403.8v-2.4M494.2 240.0v2.4M525.4 403.8v-2.4M525.4 240.0v2.4M556.6 403.8v-2.4M556.6 240.0v2.4M587.8 403.8v-2.4M587.8 240.0v2.4M619.0 403.8v-2.4M619.0 240.0v2.4M650.2 403.8v-2.4M650.2 240.0v2.4M370.6 385.8h2.4M652.0 385.8h-2.4M370.6 367.6h2.4M652.0 367.6h-2.4M370.6 349.3h2.4M652.0 349.3h-2.4M370.6 331.1h2.4M652.0 331.1h-2.4M370.6 312.8h2.4M652.0 312.8h-2.4M370.6 294.6h2.4M652.0 294.6h-2.4M370.6 276.3h2.4M652.0 276.3h-2.4M370.6 258.1h2.4M652.0 258.1h-2.4" stroke="#77783a" stroke-width="0.7" fill="none"/>
<rect x="371.05" y="240.45" width="280.50" height="162.90" fill="none" stroke="#77783a" stroke-width="0.9"/>
<rect x="664.6" y="25.2" width="8.6" height="157.6" fill="url(#cbB)" stroke="#333" stroke-width="0.6"/>
<rect x="661.4" y="241.5" width="9.0" height="161.9" fill="url(#cbD)" stroke="#333" stroke-width="0.6"/>
<rect x="332.1" y="26" width="1.9" height="156.6" fill="#d9d6d8"/>
<g fill="#000" stroke="#000" stroke-width="0.18">
<text transform="translate(27.00 30.25) scale(0.950 1)" font-size="9.30" text-anchor="end" style="font-family:'Liberation Sans',sans-serif" >180</text>
<text transform="translate(27.00 47.51) scale(0.950 1)" font-size="9.30" text-anchor="end" style="font-family:'Liberation Sans',sans-serif" >160</text>
<text transform="translate(27.00 64.77) scale(0.950 1)" font-size="9.30" text-anchor="end" style="font-family:'Liberation Sans',sans-serif" >140</text>
<text transform="translate(27.00 82.04) scale(0.950 1)" font-size="9.30" text-anchor="end" style="font-family:'Liberation Sans',sans-serif" >120</text>
<text transform="translate(27.00 99.30) scale(0.950 1)" font-size="9.30" text-anchor="end" style="font-family:'Liberation Sans',sans-serif" >100</text>
<text transform="translate(27.00 116.56) scale(0.950 1)" font-size="9.30" text-anchor="end" style="font-family:'Liberation Sans',sans-serif" >80</text>
<text transform="translate(27.00 133.82) scale(0.950 1)" font-size="9.30" text-anchor="end" style="font-family:'Liberation Sans',sans-serif" >60</text>
<text transform="translate(27.00 151.09) scale(0.950 1)" font-size="9.30" text-anchor="end" style="font-family:'Liberation Sans',sans-serif" >40</text>
<text transform="translate(27.00 168.35) scale(0.950 1)" font-size="9.30" text-anchor="end" style="font-family:'Liberation Sans',sans-serif" >20</text>
<text transform="translate(29.60 190.45) scale(1.130 1)" font-size="6.80" text-anchor="middle" style="font-family:'Liberation Sans',sans-serif" >0</text>
<text transform="translate(54.25 190.45) scale(1.130 1)" font-size="6.80" text-anchor="middle" style="font-family:'Liberation Sans',sans-serif" >30</text>
<text transform="translate(78.90 190.45) scale(1.130 1)" font-size="6.80" text-anchor="middle" style="font-family:'Liberation Sans',sans-serif" >60</text>
<text transform="translate(103.55 190.45) scale(1.130 1)" font-size="6.80" text-anchor="middle" style="font-family:'Liberation Sans',sans-serif" >90</text>
<text transform="translate(128.20 190.45) scale(1.130 1)" font-size="6.80" text-anchor="middle" style="font-family:'Liberation Sans',sans-serif" >120</text>
<text transform="translate(152.85 190.45) scale(1.130 1)" font-size="6.80" text-anchor="middle" style="font-family:'Liberation Sans',sans-serif" >150</text>
<text transform="translate(177.50 190.45) scale(1.130 1)" font-size="6.80" text-anchor="middle" style="font-family:'Liberation Sans',sans-serif" >180</text>
<text transform="translate(202.15 190.45) scale(1.130 1)" font-size="6.80" text-anchor="middle" style="font-family:'Liberation Sans',sans-serif" >210</text>
<text transform="translate(226.80 190.45) scale(1.130 1)" font-size="6.80" text-anchor="middle" style="font-family:'Liberation Sans',sans-serif" >240</text>
<text transform="translate(251.45 190.45) scale(1.130 1)" font-size="6.80" text-anchor="middle" style="font-family:'Liberation Sans',sans-serif" >270</text>
<text transform="translate(276.10 190.45) scale(1.130 1)" font-size="6.80" text-anchor="middle" style="font-family:'Liberation Sans',sans-serif" >300</text>
<text transform="translate(300.75 190.45) scale(1.130 1)" font-size="6.80" text-anchor="middle" style="font-family:'Liberation Sans',sans-serif" >330</text>
<text transform="translate(325.40 190.45) scale(1.130 1)" font-size="6.80" text-anchor="middle" style="font-family:'Liberation Sans',sans-serif" >360</text>
<text transform="translate(369.00 30.25) scale(0.970 1)" font-size="9.30" text-anchor="end" style="font-family:'Liberation Sans',sans-serif" >180</text>
<text transform="translate(369.00 47.55) scale(0.970 1)" font-size="9.30" text-anchor="end" style="font-family:'Liberation Sans',sans-serif" >160</text>
<text transform="translate(369.00 64.85) scale(0.970 1)" font-size="9.30" text-anchor="end" style="font-family:'Liberation Sans',sans-serif" >140</text>
<text transform="translate(369.00 82.15) scale(0.970 1)" font-size="9.30" text-anchor="end" style="font-family:'Liberation Sans',sans-serif" >120</text>
<text transform="translate(369.00 99.45) scale(0.970 1)" font-size="9.30" text-anchor="end" style="font-family:'Liberation Sans',sans-serif" >100</text>
<text transform="translate(369.00 116.75) scale(0.970 1)" font-size="9.30" text-anchor="end" style="font-family:'Liberation Sans',sans-serif" >80</text>
<text transform="translate(369.00 134.05) scale(0.970 1)" font-size="9.30" text-anchor="end" style="font-family:'Liberation Sans',sans-serif" >60</text>
<text transform="translate(369.00 151.35) scale(0.970 1)" font-size="9.30" text-anchor="end" style="font-family:'Liberation Sans',sans-serif" >40</text>
<text transform="translate(369.00 168.65) scale(0.970 1)" font-size="9.30" text-anchor="end" style="font-family:'Liberation Sans',sans-serif" >20</text>
<text transform="translate(372.80 190.15) scale(1.130 1)" font-size="6.80" text-anchor="middle" style="font-family:'Liberation Sans',sans-serif" >0</text>
<text transform="translate(396.35 190.15) scale(1.130 1)" font-size="6.80" text-anchor="middle" style="font-family:'Liberation Sans',sans-serif" >30</text>
<text transform="translate(419.90 190.15) scale(1.130 1)" font-size="6.80" text-anchor="middle" style="font-family:'Liberation Sans',sans-serif" >60</text>
<text transform="translate(443.45 190.15) scale(1.130 1)" font-size="6.80" text-anchor="middle" style="font-family:'Liberation Sans',sans-serif" >90</text>
<text transform="translate(467.00 190.15) scale(1.130 1)" font-size="6.80" text-anchor="middle" style="font-family:'Liberation Sans',sans-serif" >120</text>
<text transform="translate(490.55 190.15) scale(1.130 1)" font-size="6.80" text-anchor="middle" style="font-family:'Liberation Sans',sans-serif" >150</text>
<text transform="translate(514.10 190.15) scale(1.130 1)" font-size="6.80" text-anchor="middle" style="font-family:'Liberation Sans',sans-serif" >180</text>
<text transform="translate(537.65 190.15) scale(1.130 1)" font-size="6.80" text-anchor="middle" style="font-family:'Liberation Sans',sans-serif" >210</text>
<text transform="translate(561.20 190.15) scale(1.130 1)" font-size="6.80" text-anchor="middle" style="font-family:'Liberation Sans',sans-serif" >240</text>
<text transform="translate(584.75 190.15) scale(1.130 1)" font-size="6.80" text-anchor="middle" style="font-family:'Liberation Sans',sans-serif" >270</text>
<text transform="translate(608.30 190.15) scale(1.130 1)" font-size="6.80" text-anchor="middle" style="font-family:'Liberation Sans',sans-serif" >300</text>
<text transform="translate(631.85 190.15) scale(1.130 1)" font-size="6.80" text-anchor="middle" style="font-family:'Liberation Sans',sans-serif" >330</text>
<text transform="translate(655.40 190.15) scale(1.130 1)" font-size="6.80" text-anchor="middle" style="font-family:'Liberation Sans',sans-serif" >360</text>
<text transform="translate(29.00 244.72) scale(0.970 1)" font-size="9.50" text-anchor="end" style="font-family:'Liberation Sans',sans-serif" >180</text>
<text transform="translate(29.00 262.48) scale(0.970 1)" font-size="9.50" text-anchor="end" style="font-family:'Liberation Sans',sans-serif" >160</text>
<text transform="translate(29.00 280.25) scale(0.970 1)" font-size="9.50" text-anchor="end" style="font-family:'Liberation Sans',sans-serif" >140</text>
<text transform="translate(29.00 298.01) scale(0.970 1)" font-size="9.50" text-anchor="end" style="font-family:'Liberation Sans',sans-serif" >120</text>
<text transform="translate(29.00 315.77) scale(0.970 1)" font-size="9.50" text-anchor="end" style="font-family:'Liberation Sans',sans-serif" >100</text>
<text transform="translate(29.00 333.53) scale(0.970 1)" font-size="9.50" text-anchor="end" style="font-family:'Liberation Sans',sans-serif" >80</text>
<text transform="translate(29.00 351.30) scale(0.970 1)" font-size="9.50" text-anchor="end" style="font-family:'Liberation Sans',sans-serif" >60</text>
<text transform="translate(29.00 369.06) scale(0.970 1)" font-size="9.50" text-anchor="end" style="font-family:'Liberation Sans',sans-serif" >40</text>
<text transform="translate(29.00 386.82) scale(0.970 1)" font-size="9.50" text-anchor="end" style="font-family:'Liberation Sans',sans-serif" >20</text>
<text transform="translate(29.60 410.05) scale(1.130 1)" font-size="6.80" text-anchor="middle" style="font-family:'Liberation Sans',sans-serif" >0</text>
<text transform="translate(54.25 410.05) scale(1.130 1)" font-size="6.80" text-anchor="middle" style="font-family:'Liberation Sans',sans-serif" >30</text>
<text transform="translate(78.90 410.05) scale(1.130 1)" font-size="6.80" text-anchor="middle" style="font-family:'Liberation Sans',sans-serif" >60</text>
<text transform="translate(103.55 410.05) scale(1.130 1)" font-size="6.80" text-anchor="middle" style="font-family:'Liberation Sans',sans-serif" >90</text>
<text transform="translate(128.20 410.05) scale(1.130 1)" font-size="6.80" text-anchor="middle" style="font-family:'Liberation Sans',sans-serif" >120</text>
<text transform="translate(152.85 410.05) scale(1.130 1)" font-size="6.80" text-anchor="middle" style="font-family:'Liberation Sans',sans-serif" >150</text>
<text transform="translate(177.50 410.05) scale(1.130 1)" font-size="6.80" text-anchor="middle" style="font-family:'Liberation Sans',sans-serif" >180</text>
<text transform="translate(202.15 410.05) scale(1.130 1)" font-size="6.80" text-anchor="middle" style="font-family:'Liberation Sans',sans-serif" >210</text>
<text transform="translate(226.80 410.05) scale(1.130 1)" font-size="6.80" text-anchor="middle" style="font-family:'Liberation Sans',sans-serif" >240</text>
<text transform="translate(251.45 410.05) scale(1.130 1)" font-size="6.80" text-anchor="middle" style="font-family:'Liberation Sans',sans-serif" >270</text>
<text transform="translate(276.10 410.05) scale(1.130 1)" font-size="6.80" text-anchor="middle" style="font-family:'Liberation Sans',sans-serif" >300</text>
<text transform="translate(300.75 410.05) scale(1.130 1)" font-size="6.80" text-anchor="middle" style="font-family:'Liberation Sans',sans-serif" >330</text>
<text transform="translate(325.40 410.05) scale(1.130 1)" font-size="6.80" text-anchor="middle" style="font-family:'Liberation Sans',sans-serif" >360</text>
<text transform="translate(369.40 243.42) scale(0.990 1)" font-size="9.50" text-anchor="end" style="font-family:'Liberation Sans',sans-serif" >180</text>
<text transform="translate(369.40 261.50) scale(0.990 1)" font-size="9.50" text-anchor="end" style="font-family:'Liberation Sans',sans-serif" >160</text>
<text transform="translate(369.40 279.57) scale(0.990 1)" font-size="9.50" text-anchor="end" style="font-family:'Liberation Sans',sans-serif" >140</text>
<text transform="translate(369.40 297.65) scale(0.990 1)" font-size="9.50" text-anchor="end" style="font-family:'Liberation Sans',sans-serif" >120</text>
<text transform="translate(369.40 315.72) scale(0.990 1)" font-size="9.50" text-anchor="end" style="font-family:'Liberation Sans',sans-serif" >100</text>
<text transform="translate(369.40 333.80) scale(0.990 1)" font-size="9.50" text-anchor="end" style="font-family:'Liberation Sans',sans-serif" >80</text>
<text transform="translate(369.40 351.87) scale(0.990 1)" font-size="9.50" text-anchor="end" style="font-family:'Liberation Sans',sans-serif" >60</text>
<text transform="translate(369.40 369.95) scale(0.990 1)" font-size="9.50" text-anchor="end" style="font-family:'Liberation Sans',sans-serif" >40</text>
<text transform="translate(369.40 388.02) scale(0.990 1)" font-size="9.50" text-anchor="end" style="font-family:'Liberation Sans',sans-serif" >20</text>
<text transform="translate(370.20 411.45) scale(1.130 1)" font-size="6.80" text-anchor="middle" style="font-family:'Liberation Sans',sans-serif" >0</text>
<text transform="translate(393.68 411.45) scale(1.130 1)" font-size="6.80" text-anchor="middle" style="font-family:'Liberation Sans',sans-serif" >30</text>
<text transform="translate(417.17 411.45) scale(1.130 1)" font-size="6.80" text-anchor="middle" style="font-family:'Liberation Sans',sans-serif" >60</text>
<text transform="translate(440.65 411.45) scale(1.130 1)" font-size="6.80" text-anchor="middle" style="font-family:'Liberation Sans',sans-serif" >90</text>
<text transform="translate(464.13 411.45) scale(1.130 1)" font-size="6.80" text-anchor="middle" style="font-family:'Liberation Sans',sans-serif" >120</text>
<text transform="translate(487.62 411.45) scale(1.130 1)" font-size="6.80" text-anchor="middle" style="font-family:'Liberation Sans',sans-serif" >150</text>
<text transform="translate(511.10 411.45) scale(1.130 1)" font-size="6.80" text-anchor="middle" style="font-family:'Liberation Sans',sans-serif" >180</text>
<text transform="translate(534.58 411.45) scale(1.130 1)" font-size="6.80" text-anchor="middle" style="font-family:'Liberation Sans',sans-serif" >210</text>
<text transform="translate(558.07 411.45) scale(1.130 1)" font-size="6.80" text-anchor="middle" style="font-family:'Liberation Sans',sans-serif" >240</text>
<text transform="translate(581.55 411.45) scale(1.130 1)" font-size="6.80" text-anchor="middle" style="font-family:'Liberation Sans',sans-serif" >270</text>
<text transform="translate(605.03 411.45) scale(1.130 1)" font-size="6.80" text-anchor="middle" style="font-family:'Liberation Sans',sans-serif" >300</text>
<text transform="translate(628.52 411.45) scale(1.130 1)" font-size="6.80" text-anchor="middle" style="font-family:'Liberation Sans',sans-serif" >330</text>
<text transform="translate(652.00 411.45) scale(1.130 1)" font-size="6.80" text-anchor="middle" style="font-family:'Liberation Sans',sans-serif" >360</text>
<text x="132.3" y="197.0" font-size="7.8" textLength="97.7" lengthAdjust="spacingAndGlyphs" style="font-family:'Liberation Sans',sans-serif">Spherical longitude (Λ  [°])</text>
<text x="471.7" y="196.6" font-size="7.8" textLength="93.9" lengthAdjust="spacingAndGlyphs" style="font-family:'Liberation Sans',sans-serif">Spherical longitude (Λ  [°])</text>
<text x="132.8" y="416.6" font-size="7.8" textLength="98.0" lengthAdjust="spacingAndGlyphs" style="font-family:'Liberation Sans',sans-serif">Spherical longitude (Λ  [°])</text>
<text x="467.9" y="418.0" font-size="7.8" textLength="94.3" lengthAdjust="spacingAndGlyphs" style="font-family:'Liberation Sans',sans-serif">Spherical longitude (Λ  [°])</text>
<text transform="translate(8.1 104.8) rotate(-90)" x="-48.9" y="0" font-size="10.5" textLength="97.8" lengthAdjust="spacingAndGlyphs" style="font-family:'Liberation Sans',sans-serif">Spherical colaitude (ϕ [°])</text>
<text transform="translate(349.6 105.0) rotate(-90)" x="-49.2" y="0" font-size="11.0" textLength="98.5" lengthAdjust="spacingAndGlyphs" style="font-family:'Liberation Sans',sans-serif">Spherical colaitude (ϕ [°])</text>
<text transform="translate(9.3 323.1) rotate(-90)" x="-49.6" y="0" font-size="10.3" textLength="99.2" lengthAdjust="spacingAndGlyphs" style="font-family:'Liberation Sans',sans-serif">Spherical colaitude (ϕ [°])</text>
<text transform="translate(349.8 322.0) rotate(-90)" x="-51.8" y="0" font-size="10.8" textLength="103.5" lengthAdjust="spacingAndGlyphs" style="font-family:'Liberation Sans',sans-serif">Spherical colaitude (ϕ [°])</text>
<text transform="translate(674.20 27.50) scale(1.300 1)" font-size="5.40" text-anchor="start" style="font-family:'Liberation Sans',sans-serif;font-weight:bold" >1</text>
<text transform="translate(674.20 43.32) scale(1.300 1)" font-size="5.40" text-anchor="start" style="font-family:'Liberation Sans',sans-serif;font-weight:bold" >0.9</text>
<rect x="664.6" y="41.1" width="1.6" height="0.5"/><rect x="671.6" y="41.1" width="1.6" height="0.5"/>
<text transform="translate(674.20 59.14) scale(1.300 1)" font-size="5.40" text-anchor="start" style="font-family:'Liberation Sans',sans-serif;font-weight:bold" >0.8</text>
<rect x="664.6" y="56.9" width="1.6" height="0.5"/><rect x="671.6" y="56.9" width="1.6" height="0.5"/>
<text transform="translate(674.20 74.96) scale(1.300 1)" font-size="5.40" text-anchor="start" style="font-family:'Liberation Sans',sans-serif;font-weight:bold" >0.7</text>
<rect x="664.6" y="72.7" width="1.6" height="0.5"/><rect x="671.6" y="72.7" width="1.6" height="0.5"/>
<text transform="translate(674.20 90.78) scale(1.300 1)" font-size="5.40" text-anchor="start" style="font-family:'Liberation Sans',sans-serif;font-weight:bold" >0.6</text>
<rect x="664.6" y="88.5" width="1.6" height="0.5"/><rect x="671.6" y="88.5" width="1.6" height="0.5"/>
<text transform="translate(674.20 106.60) scale(1.300 1)" font-size="5.40" text-anchor="start" style="font-family:'Liberation Sans',sans-serif;font-weight:bold" >0.5</text>
<rect x="664.6" y="104.3" width="1.6" height="0.5"/><rect x="671.6" y="104.3" width="1.6" height="0.5"/>
<text transform="translate(674.20 122.42) scale(1.300 1)" font-size="5.40" text-anchor="start" style="font-family:'Liberation Sans',sans-serif;font-weight:bold" >0.4</text>
<rect x="664.6" y="120.2" width="1.6" height="0.5"/><rect x="671.6" y="120.2" width="1.6" height="0.5"/>
<text transform="translate(674.20 138.24) scale(1.300 1)" font-size="5.40" text-anchor="start" style="font-family:'Liberation Sans',sans-serif;font-weight:bold" >0.3</text>
<rect x="664.6" y="136.0" width="1.6" height="0.5"/><rect x="671.6" y="136.0" width="1.6" height="0.5"/>
<text transform="translate(674.20 154.06) scale(1.300 1)" font-size="5.40" text-anchor="start" style="font-family:'Liberation Sans',sans-serif;font-weight:bold" >0.2</text>
<rect x="664.6" y="151.8" width="1.6" height="0.5"/><rect x="671.6" y="151.8" width="1.6" height="0.5"/>
<text transform="translate(674.20 169.88) scale(1.300 1)" font-size="5.40" text-anchor="start" style="font-family:'Liberation Sans',sans-serif;font-weight:bold" >0.1</text>
<rect x="664.6" y="167.6" width="1.6" height="0.5"/><rect x="671.6" y="167.6" width="1.6" height="0.5"/>
<text transform="translate(674.20 184.40) scale(1.320 1)" font-size="5.60" text-anchor="start" style="font-family:'Liberation Sans',sans-serif;font-weight:bold" >-</text>
<text transform="translate(671.30 257.20) scale(1.300 1)" font-size="5.70" text-anchor="start" style="font-family:'Liberation Sans',sans-serif;font-weight:bold" >0.9</text>
<rect x="661.5" y="254.9" width="1.6" height="0.5"/><rect x="668.5" y="254.9" width="1.6" height="0.5"/>
<text transform="translate(671.30 274.39) scale(1.300 1)" font-size="5.70" text-anchor="start" style="font-family:'Liberation Sans',sans-serif;font-weight:bold" >0.8</text>
<rect x="661.5" y="272.1" width="1.6" height="0.5"/><rect x="668.5" y="272.1" width="1.6" height="0.5"/>
<text transform="translate(671.30 291.58) scale(1.300 1)" font-size="5.70" text-anchor="start" style="font-family:'Liberation Sans',sans-serif;font-weight:bold" >0.7</text>
<rect x="661.5" y="289.3" width="1.6" height="0.5"/><rect x="668.5" y="289.3" width="1.6" height="0.5"/>
<text transform="translate(671.30 308.77) scale(1.300 1)" font-size="5.70" text-anchor="start" style="font-family:'Liberation Sans',sans-serif;font-weight:bold" >0.6</text>
<rect x="661.5" y="306.5" width="1.6" height="0.5"/><rect x="668.5" y="306.5" width="1.6" height="0.5"/>
<text transform="translate(671.30 325.96) scale(1.300 1)" font-size="5.70" text-anchor="start" style="font-family:'Liberation Sans',sans-serif;font-weight:bold" >0.5</text>
<rect x="661.5" y="323.7" width="1.6" height="0.5"/><rect x="668.5" y="323.7" width="1.6" height="0.5"/>
<text transform="translate(671.30 343.15) scale(1.300 1)" font-size="5.70" text-anchor="start" style="font-family:'Liberation Sans',sans-serif;font-weight:bold" >0.4</text>
<rect x="661.5" y="340.9" width="1.6" height="0.5"/><rect x="668.5" y="340.9" width="1.6" height="0.5"/>
<text transform="translate(671.30 360.34) scale(1.300 1)" font-size="5.70" text-anchor="start" style="font-family:'Liberation Sans',sans-serif;font-weight:bold" >0.3</text>
<rect x="661.5" y="358.1" width="1.6" height="0.5"/><rect x="668.5" y="358.1" width="1.6" height="0.5"/>
<text transform="translate(671.30 377.53) scale(1.300 1)" font-size="5.70" text-anchor="start" style="font-family:'Liberation Sans',sans-serif;font-weight:bold" >0.2</text>
<rect x="661.5" y="375.3" width="1.6" height="0.5"/><rect x="668.5" y="375.3" width="1.6" height="0.5"/>
<text transform="translate(671.30 394.72) scale(1.300 1)" font-size="5.70" text-anchor="start" style="font-family:'Liberation Sans',sans-serif;font-weight:bold" >0.1</text>
<rect x="661.5" y="392.5" width="1.6" height="0.5"/><rect x="668.5" y="392.5" width="1.6" height="0.5"/>
<text transform="translate(10.40 17.30) scale(1.250 1)" font-size="14.50" text-anchor="start" style="font-family:'DejaVu Sans','Liberation Sans',sans-serif;font-weight:bold" >a)</text>
<text transform="translate(351.00 18.20) scale(1.250 1)" font-size="14.50" text-anchor="start" style="font-family:'DejaVu Sans','Liberation Sans',sans-serif;font-weight:bold" >b)</text>
<text transform="translate(8.90 231.50) scale(1.200 1)" font-size="14.50" text-anchor="start" style="font-family:'DejaVu Sans','Liberation Sans',sans-serif;font-weight:bold" >c)</text>
<text transform="translate(353.60 232.30) scale(1.250 1)" font-size="14.50" text-anchor="start" style="font-family:'DejaVu Sans','Liberation Sans',sans-serif;font-weight:bold" >d)</text>
<text x="126.0" y="16.8" font-size="16.3" textLength="17.0" lengthAdjust="spacingAndGlyphs" style="font-family:'Liberation Serif',serif;font-weight:bold;font-style:italic">P</text>
<text x="144.4" y="19.6" font-size="12.4" textLength="24.6" lengthAdjust="spacingAndGlyphs" style="font-family:'Liberation Serif',serif;font-weight:bold;font-style:italic">loc</text>
<text x="172.4" y="17.4" font-size="17.5" textLength="66.2" lengthAdjust="spacingAndGlyphs" style="font-family:'Liberation Serif',serif;font-weight:bold">(Φ, Λ)</text>
<text x="456.6" y="16.2" font-size="16.3" textLength="17.0" lengthAdjust="spacingAndGlyphs" style="font-family:'Liberation Serif',serif;font-weight:bold;font-style:italic">P</text>
<text x="475.2" y="19.2" font-size="12.4" textLength="24.8" lengthAdjust="spacingAndGlyphs" style="font-family:'Liberation Serif',serif;font-weight:bold;font-style:italic">loc</text>
<text x="502.6" y="16.6" font-size="17.0" textLength="66.8" lengthAdjust="spacingAndGlyphs" style="font-family:'Liberation Serif',serif;font-weight:bold">(Φ, Λ)</text>
<text x="130.2" y="220.0" font-size="16.3" textLength="15.0" lengthAdjust="spacingAndGlyphs" style="font-family:'Liberation Serif',serif;font-weight:bold;font-style:italic">P</text>
<text x="146.2" y="213.7" font-size="12.4" textLength="12.0" lengthAdjust="spacingAndGlyphs" style="font-family:'Liberation Serif',serif;font-weight:bold;font-style:italic">n</text>
<text x="147.2" y="224.2" font-size="12.4" textLength="18.6" lengthAdjust="spacingAndGlyphs" style="font-family:'Liberation Serif',serif;font-weight:bold;font-style:italic">dI</text>
<rect x="146.4" y="225.9" width="20.2" height="1.1"/>
<text x="147.2" y="237.4" font-size="12.4" textLength="18.4" lengthAdjust="spacingAndGlyphs" style="font-family:'Liberation Serif',serif;font-weight:bold;font-style:italic">dt</text>
<text x="169.6" y="221.0" font-size="17.0" textLength="66.4" lengthAdjust="spacingAndGlyphs" style="font-family:'Liberation Serif',serif;font-weight:bold">(Φ, Λ)</text>
<text x="457.0" y="220.4" font-size="16.3" textLength="15.0" lengthAdjust="spacingAndGlyphs" style="font-family:'Liberation Serif',serif;font-weight:bold;font-style:italic">P</text>
<text x="473.2" y="214.0" font-size="12.4" textLength="11.2" lengthAdjust="spacingAndGlyphs" style="font-family:'Liberation Serif',serif;font-weight:bold;font-style:italic">n</text>
<text x="474.2" y="224.8" font-size="12.4" textLength="18.6" lengthAdjust="spacingAndGlyphs" style="font-family:'Liberation Serif',serif;font-weight:bold;font-style:italic">dI</text>
<rect x="473.4" y="226.8" width="20.2" height="1.1"/>
<text x="474.2" y="238.0" font-size="12.4" textLength="17.8" lengthAdjust="spacingAndGlyphs" style="font-family:'Liberation Serif',serif;font-weight:bold;font-style:italic">dt</text>
<text x="502.6" y="221.6" font-size="17.0" textLength="66.8" lengthAdjust="spacingAndGlyphs" style="font-family:'Liberation Serif',serif;font-weight:bold">(Φ, Λ)</text>
</g>
<path d="M489.6 3.3 Q512 -1.2 535.2 3.0" fill="none" stroke="#222" stroke-width="0.9"/>
<path d="M489.6 204.7 Q512 201.6 535.2 205.6" fill="none" stroke="#222" stroke-width="0.9"/>
<ellipse cx="289.7" cy="317.4" rx="14.25" ry="14.5" fill="none" stroke="#e60a0c" stroke-width="4.4"/>
<ellipse cx="609.1" cy="316.7" rx="14.7" ry="16.4" fill="none" stroke="#e60a0c" stroke-width="4.2"/>
<rect x="305.8" y="315.85" width="280" height="2.2" fill="#e60a0c"/>
<path d="M592.6 316.95 L584.8 313.5 L584.8 320.4 Z" fill="#e60a0c"/>
</svg>
</body></html>
